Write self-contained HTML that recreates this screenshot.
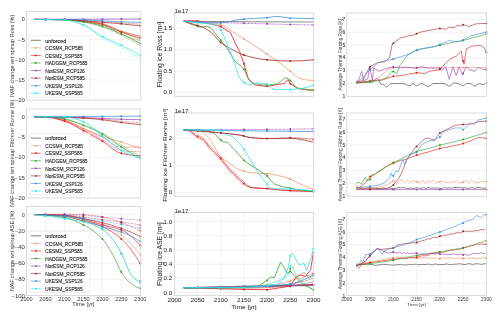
<!DOCTYPE html><html><head><meta charset="utf-8"><style>html,body{margin:0;padding:0;background:#fff;}svg{display:block;will-change:transform;}text{font-family:"Liberation Sans",sans-serif;fill:#262626;stroke:#262626;stroke-width:0.02;} text.t3{stroke:none;fill:#3a3a3a;} text.t3d{stroke:#333;stroke-width:0.08;fill:#333;} text.b{stroke-width:0.12;} text.t1{stroke:none;fill:#333;}</style></head><body>
<svg width="500" height="317" viewBox="0 0 500 317">
<rect width="500" height="317" fill="#fff"/>
<line x1="26.5" y1="19.4" x2="140.3" y2="19.4" stroke="#e9e9e9" stroke-width="0.6"/>
<line x1="26.5" y1="39.58" x2="140.3" y2="39.58" stroke="#e9e9e9" stroke-width="0.6"/>
<line x1="26.5" y1="59.75" x2="140.3" y2="59.75" stroke="#e9e9e9" stroke-width="0.6"/>
<line x1="26.5" y1="79.93" x2="140.3" y2="79.93" stroke="#e9e9e9" stroke-width="0.6"/>
<line x1="26.5" y1="116.9" x2="140.3" y2="116.9" stroke="#e9e9e9" stroke-width="0.6"/>
<line x1="26.5" y1="137.15" x2="140.3" y2="137.15" stroke="#e9e9e9" stroke-width="0.6"/>
<line x1="26.5" y1="157.4" x2="140.3" y2="157.4" stroke="#e9e9e9" stroke-width="0.6"/>
<line x1="26.5" y1="177.65" x2="140.3" y2="177.65" stroke="#e9e9e9" stroke-width="0.6"/>
<line x1="26.5" y1="214.6" x2="140.3" y2="214.6" stroke="#e9e9e9" stroke-width="0.6"/>
<line x1="26.5" y1="230.8" x2="140.3" y2="230.8" stroke="#e9e9e9" stroke-width="0.6"/>
<line x1="26.5" y1="247" x2="140.3" y2="247" stroke="#e9e9e9" stroke-width="0.6"/>
<line x1="26.5" y1="263.2" x2="140.3" y2="263.2" stroke="#e9e9e9" stroke-width="0.6"/>
<line x1="26.5" y1="279.4" x2="140.3" y2="279.4" stroke="#e9e9e9" stroke-width="0.6"/>
<line x1="45.47" y1="206.5" x2="45.47" y2="295.6" stroke="#e9e9e9" stroke-width="0.6"/>
<line x1="64.43" y1="206.5" x2="64.43" y2="295.6" stroke="#e9e9e9" stroke-width="0.6"/>
<line x1="83.4" y1="206.5" x2="83.4" y2="295.6" stroke="#e9e9e9" stroke-width="0.6"/>
<line x1="102.37" y1="206.5" x2="102.37" y2="295.6" stroke="#e9e9e9" stroke-width="0.6"/>
<line x1="121.33" y1="206.5" x2="121.33" y2="295.6" stroke="#e9e9e9" stroke-width="0.6"/>
<line x1="174.4" y1="92.4" x2="313.4" y2="92.4" stroke="#e9e9e9" stroke-width="0.6"/>
<line x1="174.4" y1="70.94" x2="313.4" y2="70.94" stroke="#e9e9e9" stroke-width="0.6"/>
<line x1="174.4" y1="49.47" x2="313.4" y2="49.47" stroke="#e9e9e9" stroke-width="0.6"/>
<line x1="174.4" y1="28.01" x2="313.4" y2="28.01" stroke="#e9e9e9" stroke-width="0.6"/>
<line x1="174.4" y1="192.3" x2="313.4" y2="192.3" stroke="#e9e9e9" stroke-width="0.6"/>
<line x1="174.4" y1="165.3" x2="313.4" y2="165.3" stroke="#e9e9e9" stroke-width="0.6"/>
<line x1="174.4" y1="138.3" x2="313.4" y2="138.3" stroke="#e9e9e9" stroke-width="0.6"/>
<line x1="174.4" y1="292.6" x2="313.4" y2="292.6" stroke="#e9e9e9" stroke-width="0.6"/>
<line x1="174.4" y1="278.38" x2="313.4" y2="278.38" stroke="#e9e9e9" stroke-width="0.6"/>
<line x1="174.4" y1="264.16" x2="313.4" y2="264.16" stroke="#e9e9e9" stroke-width="0.6"/>
<line x1="174.4" y1="249.94" x2="313.4" y2="249.94" stroke="#e9e9e9" stroke-width="0.6"/>
<line x1="174.4" y1="235.72" x2="313.4" y2="235.72" stroke="#e9e9e9" stroke-width="0.6"/>
<line x1="174.4" y1="221.5" x2="313.4" y2="221.5" stroke="#e9e9e9" stroke-width="0.6"/>
<line x1="197.57" y1="212.6" x2="197.57" y2="295.6" stroke="#e9e9e9" stroke-width="0.6"/>
<line x1="220.73" y1="212.6" x2="220.73" y2="295.6" stroke="#e9e9e9" stroke-width="0.6"/>
<line x1="243.9" y1="212.6" x2="243.9" y2="295.6" stroke="#e9e9e9" stroke-width="0.6"/>
<line x1="267.07" y1="212.6" x2="267.07" y2="295.6" stroke="#e9e9e9" stroke-width="0.6"/>
<line x1="290.23" y1="212.6" x2="290.23" y2="295.6" stroke="#e9e9e9" stroke-width="0.6"/>
<line x1="346.8" y1="83.33" x2="486.4" y2="83.33" stroke="#e9e9e9" stroke-width="0.6"/>
<line x1="346.8" y1="70.56" x2="486.4" y2="70.56" stroke="#e9e9e9" stroke-width="0.6"/>
<line x1="346.8" y1="57.79" x2="486.4" y2="57.79" stroke="#e9e9e9" stroke-width="0.6"/>
<line x1="346.8" y1="45.02" x2="486.4" y2="45.02" stroke="#e9e9e9" stroke-width="0.6"/>
<line x1="346.8" y1="32.25" x2="486.4" y2="32.25" stroke="#e9e9e9" stroke-width="0.6"/>
<line x1="346.8" y1="19.48" x2="486.4" y2="19.48" stroke="#e9e9e9" stroke-width="0.6"/>
<line x1="346.8" y1="183.25" x2="486.4" y2="183.25" stroke="#e9e9e9" stroke-width="0.6"/>
<line x1="346.8" y1="170.5" x2="486.4" y2="170.5" stroke="#e9e9e9" stroke-width="0.6"/>
<line x1="346.8" y1="157.75" x2="486.4" y2="157.75" stroke="#e9e9e9" stroke-width="0.6"/>
<line x1="346.8" y1="145" x2="486.4" y2="145" stroke="#e9e9e9" stroke-width="0.6"/>
<line x1="346.8" y1="132.25" x2="486.4" y2="132.25" stroke="#e9e9e9" stroke-width="0.6"/>
<line x1="346.8" y1="119.5" x2="486.4" y2="119.5" stroke="#e9e9e9" stroke-width="0.6"/>
<line x1="346.8" y1="283.24" x2="486.4" y2="283.24" stroke="#e9e9e9" stroke-width="0.6"/>
<line x1="346.8" y1="270.48" x2="486.4" y2="270.48" stroke="#e9e9e9" stroke-width="0.6"/>
<line x1="346.8" y1="257.72" x2="486.4" y2="257.72" stroke="#e9e9e9" stroke-width="0.6"/>
<line x1="346.8" y1="244.96" x2="486.4" y2="244.96" stroke="#e9e9e9" stroke-width="0.6"/>
<line x1="346.8" y1="232.2" x2="486.4" y2="232.2" stroke="#e9e9e9" stroke-width="0.6"/>
<line x1="346.8" y1="219.44" x2="486.4" y2="219.44" stroke="#e9e9e9" stroke-width="0.6"/>
<line x1="370.07" y1="212.6" x2="370.07" y2="295.6" stroke="#e9e9e9" stroke-width="0.6"/>
<line x1="393.33" y1="212.6" x2="393.33" y2="295.6" stroke="#e9e9e9" stroke-width="0.6"/>
<line x1="416.6" y1="212.6" x2="416.6" y2="295.6" stroke="#e9e9e9" stroke-width="0.6"/>
<line x1="439.87" y1="212.6" x2="439.87" y2="295.6" stroke="#e9e9e9" stroke-width="0.6"/>
<line x1="463.13" y1="212.6" x2="463.13" y2="295.6" stroke="#e9e9e9" stroke-width="0.6"/>
<path d="M183.67,21.14 C196.02,21.3 208.38,21.48 220.73,21.57 C251.62,21.78 282.51,21.99 313.4,21.99" fill="none" stroke="#3d3d3d" stroke-width="0.6" stroke-linejoin="round"/>
<path d="M183.67,287.77 C203.74,287.54 223.82,287.25 243.9,286.91 C267.07,286.53 290.23,286.04 313.4,285.49" fill="none" stroke="#3d3d3d" stroke-width="0.6" stroke-linejoin="round"/>
<path d="M356.11,82.69 C359.21,82.66 362.31,82.55 365.41,82.44 C367.74,82.35 370.07,82.3 372.39,82.05 C374.1,81.87 375.81,78.48 377.51,78.48 C378.6,78.48 379.68,83.46 380.77,83.97 C381.86,84.48 382.94,84.42 384.03,84.86 C384.96,85.24 385.89,86.91 386.82,86.91 C387.9,86.91 388.99,84.19 390.08,83.97 C391.16,83.74 392.25,83.59 393.33,83.59 C396.44,83.59 399.54,83.59 402.64,83.59 C405.12,83.59 407.6,85.88 410.09,85.88 C411.02,85.88 411.95,83.59 412.88,83.59 C414.12,83.59 415.36,85.88 416.6,85.88 C418.15,85.88 419.7,83.59 421.25,83.59 C423.74,83.59 426.22,86.52 428.7,86.52 C430.25,86.52 431.8,83.71 433.35,83.59 C435.52,83.42 437.7,83.33 439.87,83.33 C441.42,83.33 442.97,83.43 444.52,83.59 C446.07,83.74 447.62,86.14 449.17,86.14 C451.03,86.14 452.9,82.69 454.76,82.69 C456.31,82.69 457.86,83.41 459.41,83.97 C460.65,84.42 461.89,85.88 463.13,85.88 C464.37,85.88 465.62,83.33 466.86,83.33 C467.94,83.33 469.03,83.44 470.11,83.59 C471.66,83.79 473.22,86.14 474.77,86.14 C476.32,86.14 477.87,83.59 479.42,83.59 C480.66,83.59 481.9,84.61 483.14,84.61 C484.23,84.61 485.31,83.57 486.4,82.31" fill="none" stroke="#3d3d3d" stroke-width="0.62" stroke-linejoin="round"/>
<path d="M356.11,188.52 C356.88,188.18 357.66,187.85 358.43,187.85 C359.21,187.85 359.98,187.88 360.76,187.92 C361.54,187.95 362.31,188.03 363.09,188.11 C363.86,188.2 364.64,188.45 365.41,188.45 C366.19,188.45 366.96,187.72 367.74,187.71 C368.52,187.7 369.29,187.69 370.07,187.69 C370.84,187.69 371.62,188.06 372.39,188.06 C373.17,188.07 373.94,188.07 374.72,188.07 C375.5,188.07 376.27,188.31 377.05,188.41 C377.82,188.52 378.6,188.71 379.37,188.71 C380.15,188.71 380.92,188.35 381.7,188.23 C382.48,188.12 383.25,187.96 384.03,187.96 C384.8,187.96 385.58,188.61 386.35,188.61 C387.13,188.61 387.9,187.69 388.68,187.69 C389.46,187.69 390.23,188.4 391.01,188.4 C391.78,188.4 392.56,188.4 393.33,188.4 C394.11,188.4 394.88,188.64 395.66,188.64 C396.44,188.64 397.21,187.42 397.99,187.42 C398.76,187.42 399.54,187.75 400.31,187.75 C401.09,187.75 401.86,187.57 402.64,187.57 C403.42,187.57 404.19,187.75 404.97,187.9 C405.74,188.05 406.52,188.64 407.29,188.64 C408.07,188.64 408.84,188.35 409.62,188.26 C410.4,188.17 411.17,188.04 411.95,188.04 C412.72,188.04 413.5,188.53 414.27,188.53 C415.05,188.53 415.82,187.46 416.6,187.46 C417.38,187.46 418.15,188.07 418.93,188.2 C419.7,188.33 420.48,188.47 421.25,188.47 C422.03,188.47 422.8,187.62 423.58,187.62 C424.36,187.62 425.13,188.5 425.91,188.5 C426.68,188.5 427.46,187.48 428.23,187.48 C429.01,187.48 429.78,188.08 430.56,188.08 C431.34,188.08 432.11,187.95 432.89,187.95 C433.66,187.95 434.44,188.22 435.21,188.22 C435.99,188.22 436.76,188.03 437.54,188.03 C438.32,188.03 439.09,188.33 439.87,188.41 C440.64,188.5 441.42,188.6 442.19,188.6 C442.97,188.6 443.74,187.54 444.52,187.54 C445.3,187.54 446.07,188.34 446.85,188.34 C447.62,188.34 448.4,187.65 449.17,187.65 C449.95,187.65 450.72,188.37 451.5,188.37 C452.28,188.37 453.05,187.4 453.83,187.4 C454.6,187.4 455.38,187.45 456.15,187.49 C456.93,187.54 457.7,187.67 458.48,187.67 C459.26,187.67 460.03,187.66 460.81,187.66 C461.58,187.66 462.36,187.89 463.13,187.89 C463.91,187.89 464.68,187.7 465.46,187.7 C466.24,187.7 467.01,188.47 467.79,188.47 C468.56,188.47 469.34,188.16 470.11,188.01 C470.89,187.86 471.66,187.56 472.44,187.56 C473.22,187.56 473.99,188.36 474.77,188.36 C475.54,188.36 476.32,187.44 477.09,187.44 C477.87,187.44 478.64,187.45 479.42,187.48 C480.2,187.51 480.97,188.05 481.75,188.09 C482.52,188.12 483.3,188.14 484.07,188.14 C484.85,188.14 485.62,188.09 486.4,188.03" fill="none" stroke="#3d3d3d" stroke-width="0.62" stroke-linejoin="round"/>
<path d="M356.11,264.74 L370.07,263.97 L375.19,265.38 L382.63,264.36 L391.47,264.99 L393.33,265.11 L395.66,264.99 L397.99,264.69 L400.31,264.38 L402.64,264.93 L404.97,264.94 L407.29,264.81 L409.62,264.26 L411.95,264.87 L414.27,264.25 L416.6,264.32 L418.93,264.84 L421.25,264.42 L423.58,264.5 L425.91,264.52 L428.23,263.91 L430.56,264.82 L432.89,264.88 L435.21,263.93 L437.54,264.47 L439.87,264.66 L442.19,264.52 L444.52,264.47 L446.85,263.85 L449.17,264.6 L451.5,264.58 L453.83,264.19 L456.15,264.22 L458.48,263.79 L460.81,263.89 L463.13,264.38 L465.46,264.52 L467.79,263.86 L470.11,263.69 L472.44,264.66 L474.77,263.92 L477.09,263.78 L479.42,263.98 L481.75,264.41 L484.07,263.81 L486.4,263.87" fill="none" stroke="#3d3d3d" stroke-width="0.62" stroke-linejoin="round"/>
<path d="M34.09,19.4 C44.2,19.4 54.32,19.56 64.43,19.8 C70.76,19.96 77.08,20.7 83.4,21.42 C89.72,22.13 96.04,23.18 102.37,24.65 C108.69,26.11 115.01,29.61 121.33,31.51 C127.66,33.4 133.98,35.07 140.3,36.35" fill="none" stroke="#f29a74" stroke-width="0.7" stroke-linejoin="round"/>
<circle cx="45.47" cy="19.55" r="1.0" fill="#f29a74"/>
<circle cx="64.43" cy="19.8" r="1.0" fill="#f29a74"/>
<circle cx="83.4" cy="21.42" r="1.0" fill="#f29a74"/>
<circle cx="102.37" cy="24.65" r="1.0" fill="#f29a74"/>
<circle cx="121.33" cy="31.51" r="1.0" fill="#f29a74"/>
<circle cx="140.3" cy="36.35" r="1.0" fill="#f29a74"/>
<path d="M34.09,116.9 C37.88,116.9 41.67,116.9 45.47,116.9 C51.79,116.9 58.11,118.58 64.43,120.14 C70.76,121.7 77.08,125.95 83.4,128.65 C89.72,131.34 96.04,134.16 102.37,136.34 C108.69,138.52 115.01,140.05 121.33,142.01 C127.66,143.97 133.98,145.99 140.3,148.09" fill="none" stroke="#f29a74" stroke-width="0.7" stroke-linejoin="round"/>
<circle cx="45.47" cy="116.9" r="1.0" fill="#f29a74"/>
<circle cx="64.43" cy="120.14" r="1.0" fill="#f29a74"/>
<circle cx="83.4" cy="128.65" r="1.0" fill="#f29a74"/>
<circle cx="102.37" cy="136.34" r="1.0" fill="#f29a74"/>
<circle cx="121.33" cy="142.01" r="1.0" fill="#f29a74"/>
<circle cx="140.3" cy="148.09" r="1.0" fill="#f29a74"/>
<path d="M34.09,214.6 C44.2,214.6 54.32,214.92 64.43,215.41 C70.76,215.72 77.08,217.28 83.4,218.65 C89.72,220.02 96.04,221.86 102.37,224.32 C108.69,226.78 115.01,230.23 121.33,234.85 C127.66,239.47 133.98,246.73 140.3,255.1" fill="none" stroke="#f29a74" stroke-width="0.65" stroke-linejoin="round"/>
<circle cx="45.47" cy="214.9" r="1.0" fill="#f29a74"/>
<circle cx="64.43" cy="215.41" r="1.0" fill="#f29a74"/>
<circle cx="83.4" cy="218.65" r="1.0" fill="#f29a74"/>
<circle cx="102.37" cy="224.32" r="1.0" fill="#f29a74"/>
<circle cx="121.33" cy="234.85" r="1.0" fill="#f29a74"/>
<circle cx="140.3" cy="255.1" r="1.0" fill="#f29a74"/>
<path d="M183.67,21.14 C188.3,21.33 192.93,21.63 197.57,21.99 C205.13,22.59 212.7,22.95 220.27,24.57 C222.74,25.1 225.21,27.39 227.68,28.86 C230.93,30.8 234.17,32.87 237.41,34.87 C242.05,37.74 246.68,40.48 251.31,43.46 C256.41,46.74 261.51,50.24 266.6,53.76 C272.63,57.93 278.65,61.9 284.67,66.64 C286.53,68.1 288.38,69.89 290.23,71.36 C293.32,73.82 296.41,77.11 299.5,78.23 C301.82,79.07 304.13,79.72 306.45,79.95 C308.77,80.18 311.08,80.38 313.4,80.38" fill="none" stroke="#f29a74" stroke-width="0.8" stroke-linejoin="round"/>
<circle cx="197.57" cy="21.99" r="1.0" fill="#f29a74"/>
<circle cx="220.73" cy="24.84" r="1.0" fill="#f29a74"/>
<circle cx="243.9" cy="38.88" r="1.0" fill="#f29a74"/>
<circle cx="267.07" cy="54.09" r="1.0" fill="#f29a74"/>
<circle cx="290.23" cy="71.36" r="1.0" fill="#f29a74"/>
<circle cx="313.4" cy="80.38" r="1.0" fill="#f29a74"/>
<path d="M183.67,129.93 C188.76,129.93 193.86,130.01 198.96,130.2 C202.35,130.33 205.75,134.85 209.15,138.57 C211,140.6 212.86,143.98 214.71,146.94 C216.72,150.15 218.73,155.21 220.73,157.2 C223.67,160.12 226.6,161.17 229.54,163.14 C232.78,165.31 236.02,168.42 239.27,169.62 C243.59,171.23 247.92,172.47 252.24,172.86 C257.18,173.31 262.12,173.25 267.07,173.67 C274.63,174.31 282.2,176.32 289.77,178.8 C292.86,179.81 295.95,181.96 299.04,183.39 C303.82,185.61 308.61,187.71 313.4,189.6" fill="none" stroke="#f29a74" stroke-width="0.8" stroke-linejoin="round"/>
<circle cx="197.57" cy="130.18" r="1.0" fill="#f29a74"/>
<circle cx="220.73" cy="157.2" r="1.0" fill="#f29a74"/>
<circle cx="243.9" cy="170.78" r="1.0" fill="#f29a74"/>
<circle cx="267.07" cy="173.67" r="1.0" fill="#f29a74"/>
<circle cx="290.23" cy="179.03" r="1.0" fill="#f29a74"/>
<circle cx="313.4" cy="189.6" r="1.0" fill="#f29a74"/>
<path d="M183.67,287.77 L243.9,287.62 L280.97,284.07 L297.18,278.38 L304.13,271.98 L308.77,278.38 L313.4,275.54" fill="none" stroke="#f29a74" stroke-width="0.75" stroke-linejoin="round"/>
<circle cx="197.57" cy="287.73" r="1.0" fill="#f29a74"/>
<circle cx="220.73" cy="287.68" r="1.0" fill="#f29a74"/>
<circle cx="243.9" cy="287.62" r="1.0" fill="#f29a74"/>
<circle cx="267.07" cy="285.4" r="1.0" fill="#f29a74"/>
<circle cx="290.23" cy="280.82" r="1.0" fill="#f29a74"/>
<circle cx="313.4" cy="275.54" r="1.0" fill="#f29a74"/>
<path d="M183.67,287.77 C211.47,287.77 239.27,287.74 267.07,287.62 C274.79,287.59 282.51,286.38 290.23,285.49 C297.96,284.6 305.68,283.36 313.4,281.94" fill="none" stroke="#f29a74" stroke-width="0.5" stroke-dasharray="0.9,0.5" stroke-linejoin="round"/>
<path d="M356.11,82.05 C359.21,82.05 362.31,82.05 365.41,82.05 C369.91,82.05 374.41,79.55 378.91,77.33 C382.48,75.56 386.04,69.79 389.61,68.77 C393.02,67.8 396.44,66.98 399.85,66.98 C405.43,66.98 411.02,67.65 416.6,67.75 C424.2,67.89 431.8,68.01 439.4,68.01 C447.16,68.01 454.91,67.37 462.67,67.37 C470.58,67.37 478.49,67.45 486.4,67.75" fill="none" stroke="#f29a74" stroke-width="0.62" stroke-linejoin="round"/>
<circle cx="370.07" cy="80.42" r="1.0" fill="#f29a74"/>
<circle cx="393.33" cy="68.12" r="1.0" fill="#f29a74"/>
<circle cx="416.6" cy="67.75" r="1.0" fill="#f29a74"/>
<circle cx="439.87" cy="67.99" r="1.0" fill="#f29a74"/>
<circle cx="463.13" cy="67.38" r="1.0" fill="#f29a74"/>
<circle cx="486.4" cy="67.75" r="1.0" fill="#f29a74"/>
<path d="M356.11,188.22 L370.07,188.86 L382.63,186.31 L388.68,184.14 L392.87,180.44 L396.59,183.25 L401.24,179.55 L404.5,181.97 L407.76,180.06 L410.09,182.61 L412.88,180.7 L416.6,181.72 L420.32,182.61 L423.11,180.06 L425.44,183.25 L428.7,180.44 L431.03,182.23 L433.35,180.06 L436.14,182.61 L439.87,181.72 L443.59,180.95 L446.85,182.61 L450.1,181.97 L453.83,182.23 L456.62,180.7 L459.41,182.61 L463.13,182.23 L465.93,180.19 L468.72,182.61 L471.51,180.06 L474.3,181.97 L478.02,182.61 L481.75,181.34 L486.4,181.59" fill="none" stroke="#f29a74" stroke-width="0.62" stroke-linejoin="round"/>
<circle cx="370.07" cy="188.86" r="1.0" fill="#f29a74"/>
<circle cx="393.33" cy="180.8" r="1.0" fill="#f29a74"/>
<circle cx="416.6" cy="181.72" r="1.0" fill="#f29a74"/>
<circle cx="439.87" cy="181.72" r="1.0" fill="#f29a74"/>
<circle cx="463.13" cy="182.23" r="1.0" fill="#f29a74"/>
<circle cx="486.4" cy="181.59" r="1.0" fill="#f29a74"/>
<path d="M356.11,264.61 L370.07,262.06 L393.33,257.72 L395.19,257.11 L397.06,257.01 L398.92,257.09 L400.78,257.71 L402.64,257.94 L404.5,257.65 L406.36,257.85 L408.22,257.39 L410.09,257.6 L411.95,257.78 L413.81,257.91 L415.67,257.89 L417.53,258.47 L419.39,258.17 L421.25,258.46 L423.11,257.71 L424.98,258.58 L426.84,257.81 L428.7,258.58 L430.56,257.96 L432.42,258.33 L434.28,258.26 L436.14,257.82 L438.01,258.67 L439.87,258.64 L441.73,257.77 L443.59,258.19 L445.45,258.63 L447.31,257.72 L449.17,257.77 L451.03,258.62 L452.9,258.31 L454.76,258.61 L456.62,258.44 L458.48,258.13 L460.34,258.61 L462.2,258.07 L464.06,258.73 L465.93,258.62 L467.79,257.97 L469.65,258.4 L471.51,258.39 L473.37,258.21 L475.23,258.34 L477.09,258.44 L478.95,258.81 L480.82,258.11 L482.68,257.87 L484.54,257.86 L486.4,258.19" fill="none" stroke="#f29a74" stroke-width="0.62" stroke-linejoin="round"/>
<circle cx="370.07" cy="262.06" r="1.0" fill="#f29a74"/>
<circle cx="393.33" cy="257.72" r="1.0" fill="#f29a74"/>
<circle cx="416.6" cy="258.18" r="1.0" fill="#f29a74"/>
<circle cx="439.87" cy="258.64" r="1.0" fill="#f29a74"/>
<circle cx="463.13" cy="258.4" r="1.0" fill="#f29a74"/>
<circle cx="486.4" cy="258.19" r="1.0" fill="#f29a74"/>
<path d="M34.09,19.4 C44.2,19.4 54.32,19.56 64.43,19.8 C70.76,19.95 77.08,20.59 83.4,21.22 C89.72,21.84 96.04,22.64 102.37,24.04 C108.69,25.44 115.01,30.07 121.33,32.31 C127.66,34.55 133.98,36.52 140.3,37.96" fill="none" stroke="#e31a1c" stroke-width="0.7" stroke-linejoin="round"/>
<circle cx="45.47" cy="19.55" r="1.0" fill="#e31a1c"/>
<circle cx="64.43" cy="19.8" r="1.0" fill="#e31a1c"/>
<circle cx="83.4" cy="21.22" r="1.0" fill="#e31a1c"/>
<circle cx="102.37" cy="24.04" r="1.0" fill="#e31a1c"/>
<circle cx="121.33" cy="32.31" r="1.0" fill="#e31a1c"/>
<circle cx="140.3" cy="37.96" r="1.0" fill="#e31a1c"/>
<path d="M34.09,19.4 C44.2,19.4 54.32,19.53 64.43,19.72 C70.76,19.84 77.08,20.37 83.4,20.89 C89.72,21.42 96.04,22.09 102.37,23.31 C108.69,24.54 115.01,29.02 121.33,31.02 C127.66,33.02 133.98,34.77 140.3,35.94" fill="none" stroke="#e31a1c" stroke-width="0.55" stroke-dasharray="0.8,0.6" stroke-linejoin="round"/>
<path d="M34.09,19.4 C44.2,19.4 54.32,19.61 64.43,19.92 C70.76,20.11 77.08,20.9 83.4,21.67 C89.72,22.44 96.04,23.41 102.37,25.06 C108.69,26.7 115.01,31.56 121.33,34.12 C127.66,36.68 133.98,38.96 140.3,40.79" fill="none" stroke="#e31a1c" stroke-width="0.55" stroke-dasharray="0.8,0.6" stroke-linejoin="round"/>
<path d="M34.09,116.9 C37.88,116.9 41.67,116.99 45.47,117.1 C51.79,117.3 58.11,119.29 64.43,121.19 C70.76,123.1 77.08,127.34 83.4,130.67 C89.72,134 96.04,137.44 102.37,141.2 C108.69,144.96 115.01,152 121.33,153.35 C127.66,154.7 133.98,155.78 140.3,155.78" fill="none" stroke="#e31a1c" stroke-width="0.7" stroke-linejoin="round"/>
<circle cx="45.47" cy="117.1" r="1.0" fill="#e31a1c"/>
<circle cx="64.43" cy="121.19" r="1.0" fill="#e31a1c"/>
<circle cx="83.4" cy="130.67" r="1.0" fill="#e31a1c"/>
<circle cx="102.37" cy="141.2" r="1.0" fill="#e31a1c"/>
<circle cx="121.33" cy="153.35" r="1.0" fill="#e31a1c"/>
<circle cx="140.3" cy="155.78" r="1.0" fill="#e31a1c"/>
<path d="M34.09,116.9 C37.88,116.9 41.67,116.94 45.47,116.99 C51.79,117.08 58.11,118.98 64.43,120.74 C70.76,122.5 77.08,126.55 83.4,129.66 C89.72,132.76 96.04,135.94 102.37,139.4 C108.69,142.86 115.01,149.82 121.33,150.54 C127.66,151.26 133.98,151.73 140.3,151.73" fill="none" stroke="#e31a1c" stroke-width="0.55" stroke-dasharray="0.8,0.6" stroke-linejoin="round"/>
<path d="M34.09,116.9 C37.88,116.86 41.67,116.86 45.47,116.86 C51.79,116.86 58.11,118.62 64.43,120.2 C70.76,121.79 77.08,125.61 83.4,128.44 C89.72,131.28 96.04,134.13 102.37,137.24 C108.69,140.35 115.01,147.16 121.33,147.16 C127.66,147.16 133.98,147.16 140.3,146.87" fill="none" stroke="#e31a1c" stroke-width="0.55" stroke-dasharray="0.8,0.6" stroke-linejoin="round"/>
<path d="M34.09,214.6 C44.2,214.25 54.32,214.19 64.43,214.19 C70.76,214.19 77.08,214.37 83.4,214.6 C89.72,214.83 96.04,215.9 102.37,217.03 C108.69,218.16 115.01,220.48 121.33,222.7 C127.66,224.92 133.98,227.69 140.3,230.8" fill="none" stroke="#e31a1c" stroke-width="0.5" stroke-dasharray="0.9,0.6" stroke-linejoin="round"/>
<circle cx="45.47" cy="214.45" r="1.0" fill="#e31a1c"/>
<circle cx="64.43" cy="214.19" r="1.0" fill="#e31a1c"/>
<circle cx="83.4" cy="214.6" r="1.0" fill="#e31a1c"/>
<circle cx="102.37" cy="217.03" r="1.0" fill="#e31a1c"/>
<circle cx="121.33" cy="222.7" r="1.0" fill="#e31a1c"/>
<circle cx="140.3" cy="230.8" r="1.0" fill="#e31a1c"/>
<path d="M34.09,214.6 C44.2,214.6 54.32,214.9 64.43,215.41 C70.76,215.73 77.08,217.9 83.4,219.46 C89.72,221.02 96.04,223.22 102.37,224.97 C108.69,226.72 115.01,227.47 121.33,229.99 C127.66,232.51 133.98,238.52 140.3,245.38" fill="none" stroke="#e31a1c" stroke-width="0.65" stroke-linejoin="round"/>
<circle cx="45.47" cy="214.9" r="1.0" fill="#e31a1c"/>
<circle cx="64.43" cy="215.41" r="1.0" fill="#e31a1c"/>
<circle cx="83.4" cy="219.46" r="1.0" fill="#e31a1c"/>
<circle cx="102.37" cy="224.97" r="1.0" fill="#e31a1c"/>
<circle cx="121.33" cy="229.99" r="1.0" fill="#e31a1c"/>
<circle cx="140.3" cy="245.38" r="1.0" fill="#e31a1c"/>
<path d="M34.09,214.6 C44.2,214.6 54.32,215.28 64.43,216.22 C70.76,216.81 77.08,219.34 83.4,221.08 C89.72,222.82 96.04,224.17 102.37,226.75 C108.69,229.33 115.01,233.47 121.33,238.9 C127.66,244.33 133.98,253.28 140.3,263.61" fill="none" stroke="#e31a1c" stroke-width="0.65" stroke-linejoin="round"/>
<circle cx="45.47" cy="215.21" r="1.0" fill="#e31a1c"/>
<circle cx="64.43" cy="216.22" r="1.0" fill="#e31a1c"/>
<circle cx="83.4" cy="221.08" r="1.0" fill="#e31a1c"/>
<circle cx="102.37" cy="226.75" r="1.0" fill="#e31a1c"/>
<circle cx="121.33" cy="238.9" r="1.0" fill="#e31a1c"/>
<circle cx="140.3" cy="263.61" r="1.0" fill="#e31a1c"/>
<path d="M183.67,21.14 L196.18,20.71 L220.27,26.29 L230.46,32.73 L235.56,43.89 L239.73,51.62 L243.9,63.64 L248.53,79.52 L255.02,85.1 L266.6,86.39 L284.67,83.38 L287.92,79.52 L290.23,83.81 L297.65,88.11 L313.4,90.25" fill="none" stroke="#e31a1c" stroke-width="0.8" stroke-linejoin="round"/>
<circle cx="197.57" cy="21.03" r="1.0" fill="#e31a1c"/>
<circle cx="220.73" cy="26.58" r="1.0" fill="#e31a1c"/>
<circle cx="243.9" cy="63.64" r="1.0" fill="#e31a1c"/>
<circle cx="267.07" cy="86.31" r="1.0" fill="#e31a1c"/>
<circle cx="290.23" cy="83.81" r="1.0" fill="#e31a1c"/>
<circle cx="313.4" cy="90.25" r="1.0" fill="#e31a1c"/>
<path d="M183.67,129.93 C185.06,129.93 186.45,130.05 187.84,130.2 C190.62,130.5 193.4,134.27 196.18,135.87 C198.49,137.21 200.81,137.69 203.13,139.38 C205.13,140.84 207.14,144.69 209.15,146.94 C211.47,149.54 213.78,151.57 216.1,153.96 C217.64,155.55 219.19,157.09 220.73,158.82 C223.67,162.11 226.6,166.44 229.54,169.62 C232.32,172.63 235.1,174.95 237.88,177.72 C239.73,179.57 241.58,182.13 243.44,183.39 C246.37,185.39 249.31,187.39 252.24,187.71 C256.87,188.22 261.51,188.2 266.14,188.52 C274.17,189.08 282.2,190.38 290.23,190.68 C297.96,190.96 305.68,191.22 313.4,191.22" fill="none" stroke="#e31a1c" stroke-width="0.75" stroke-linejoin="round"/>
<circle cx="197.57" cy="136.57" r="1.0" fill="#e31a1c"/>
<circle cx="220.73" cy="158.82" r="1.0" fill="#e31a1c"/>
<circle cx="243.9" cy="183.62" r="1.0" fill="#e31a1c"/>
<circle cx="267.07" cy="188.6" r="1.0" fill="#e31a1c"/>
<circle cx="290.23" cy="190.68" r="1.0" fill="#e31a1c"/>
<circle cx="313.4" cy="191.22" r="1.0" fill="#e31a1c"/>
<path d="M183.67,129.93 C185.06,129.93 186.45,130.05 187.84,130.2 C190.62,130.49 193.4,132.87 196.18,134.25 C198.49,135.4 200.81,136.07 203.13,137.76 C205.13,139.22 207.14,143.07 209.15,145.32 C211.47,147.92 213.78,149.95 216.1,152.34 C217.64,153.93 219.19,155.47 220.73,157.2 C223.67,160.49 226.6,164.82 229.54,168 C232.32,171.01 235.1,173.33 237.88,176.1 C239.73,177.95 241.58,180.24 243.44,181.77 C246.37,184.19 249.31,187.37 252.24,187.71 C256.87,188.24 261.51,188.2 266.14,188.52 C274.17,189.08 282.2,190.38 290.23,190.68 C297.96,190.96 305.68,191.22 313.4,191.22" fill="none" stroke="#e31a1c" stroke-width="0.5" stroke-dasharray="0.9,0.5" stroke-linejoin="round"/>
<path d="M183.67,129.93 C185.06,129.93 186.45,130.05 187.84,130.2 C190.62,130.51 193.4,135.72 196.18,137.49 C198.49,138.96 200.81,139.31 203.13,141 C205.13,142.46 207.14,146.31 209.15,148.56 C211.47,151.16 213.78,153.19 216.1,155.58 C217.64,157.17 219.19,158.71 220.73,160.44 C223.67,163.73 226.6,168.06 229.54,171.24 C232.32,174.25 235.1,176.57 237.88,179.34 C239.73,181.19 241.58,184.1 243.44,185.01 C246.37,186.45 249.31,187.41 252.24,187.71 C256.87,188.19 261.51,188.2 266.14,188.52 C274.17,189.08 282.2,190.38 290.23,190.68 C297.96,190.96 305.68,191.22 313.4,191.22" fill="none" stroke="#e31a1c" stroke-width="0.5" stroke-dasharray="0.9,0.5" stroke-linejoin="round"/>
<path d="M183.67,287.77 L243.9,289.4 L267.07,289.76 L290.23,286.2 L296.26,276.96 L299.96,274.83 L305.52,276.25 L310.62,269.85 L313.4,252.78" fill="none" stroke="#e31a1c" stroke-width="0.8" stroke-linejoin="round"/>
<circle cx="197.57" cy="288.14" r="1.0" fill="#e31a1c"/>
<circle cx="220.73" cy="288.77" r="1.0" fill="#e31a1c"/>
<circle cx="243.9" cy="289.4" r="1.0" fill="#e31a1c"/>
<circle cx="267.07" cy="289.76" r="1.0" fill="#e31a1c"/>
<circle cx="290.23" cy="286.2" r="1.0" fill="#e31a1c"/>
<circle cx="313.4" cy="252.78" r="1.0" fill="#e31a1c"/>
<path d="M183.67,287.77 C203.74,288.33 223.82,288.33 243.9,288.33 C259.34,288.33 274.79,287.55 290.23,285.49 C294.09,284.97 297.96,280.33 301.82,278.38 C305.68,276.43 309.54,274.71 313.4,273.4" fill="none" stroke="#e31a1c" stroke-width="0.5" stroke-dasharray="0.9,0.5" stroke-linejoin="round"/>
<circle cx="313.4" cy="273.4" r="1.0" fill="#e31a1c"/>
<path d="M356.11,82.69 L372.39,80.78 L383.56,79.63 L393.33,76.18 L403.11,75.41 L408.69,74.01 L418.46,72.6 L424.05,73.75 L429.63,71.2 L439.4,69.92 L449.17,59.58 L456.15,56.13 L461.27,51.15 L462.67,59.58 L464.06,64.17 L466.39,48.98 L471.97,46.17 L480.35,45.4 L484.07,47.57 L486.4,52.55" fill="none" stroke="#e31a1c" stroke-width="0.62" stroke-linejoin="round"/>
<circle cx="370.07" cy="81.05" r="1.0" fill="#e31a1c"/>
<circle cx="393.33" cy="76.18" r="1.0" fill="#e31a1c"/>
<circle cx="416.6" cy="72.87" r="1.0" fill="#e31a1c"/>
<circle cx="439.87" cy="69.43" r="1.0" fill="#e31a1c"/>
<circle cx="463.13" cy="61.11" r="1.0" fill="#e31a1c"/>
<circle cx="486.4" cy="52.55" r="1.0" fill="#e31a1c"/>
<path d="M356.11,185.54 L358.9,187.84 L364.95,183.25 L370.07,176.62 L376.58,173.05 L384.03,167.82 L392.87,163.36 L400.31,160.43 L404.97,159.66 L416.6,155.07 L428.23,152.01 L439.87,148.44 L451.5,146.27 L462.67,143.73 L470.11,141.18 L478.49,137.35 L486.4,138.37" fill="none" stroke="#e31a1c" stroke-width="0.62" stroke-linejoin="round"/>
<circle cx="370.07" cy="176.62" r="1.0" fill="#e31a1c"/>
<circle cx="393.33" cy="163.18" r="1.0" fill="#e31a1c"/>
<circle cx="416.6" cy="155.07" r="1.0" fill="#e31a1c"/>
<circle cx="439.87" cy="148.44" r="1.0" fill="#e31a1c"/>
<circle cx="463.13" cy="143.57" r="1.0" fill="#e31a1c"/>
<circle cx="486.4" cy="138.37" r="1.0" fill="#e31a1c"/>
<path d="M356.11,265.38 L370.07,262.7 L393.33,259.25 L395.19,259.24 L397.06,258.64 L398.92,258.48 L400.78,258.14 L402.64,258.65 L404.5,258.44 L406.36,258.36 L408.22,258.11 L410.09,257.43 L411.95,257.88 L413.81,257.3 L415.67,257.46 L417.53,257.11 L419.39,256.62 L421.25,255.84 L423.11,255.72 L424.98,255.97 L426.84,255.35 L428.7,255.12 L430.56,254.02 L432.42,253.73 L434.28,253.38 L436.14,253 L438.01,252.72 L439.87,252.16 L441.73,251.96 L443.59,252.15 L445.45,251.19 L447.31,251.2 L449.17,250.57 L451.03,250.41 L452.9,250.19 L454.76,249.9 L456.62,249.47 L458.48,249.23 L460.34,249.08 L462.2,248 L464.06,247.59 L465.93,246.89 L467.79,246.68 L469.65,246.31 L471.51,245.6 L473.37,245.72 L475.23,244.65 L477.09,244.38 L478.95,244.14 L480.82,244.09 L482.68,243.9 L484.54,244.31 L486.4,244.24" fill="none" stroke="#e31a1c" stroke-width="0.62" stroke-linejoin="round"/>
<circle cx="370.07" cy="262.7" r="1.0" fill="#e31a1c"/>
<circle cx="393.33" cy="259.25" r="1.0" fill="#e31a1c"/>
<circle cx="416.6" cy="257.29" r="1.0" fill="#e31a1c"/>
<circle cx="439.87" cy="252.16" r="1.0" fill="#e31a1c"/>
<circle cx="463.13" cy="247.8" r="1.0" fill="#e31a1c"/>
<circle cx="486.4" cy="244.24" r="1.0" fill="#e31a1c"/>
<path d="M34.09,19.4 C44.2,19.4 54.32,19.55 64.43,19.8 C70.76,19.96 77.08,20.9 83.4,21.82 C89.72,22.75 96.04,24.39 102.37,26.26 C108.69,28.13 115.01,31.07 121.33,33.93 C127.66,36.78 133.98,40.05 140.3,43.61" fill="none" stroke="#33a02c" stroke-width="0.7" stroke-linejoin="round"/>
<circle cx="45.47" cy="19.55" r="1.0" fill="#33a02c"/>
<circle cx="64.43" cy="19.8" r="1.0" fill="#33a02c"/>
<circle cx="83.4" cy="21.82" r="1.0" fill="#33a02c"/>
<circle cx="102.37" cy="26.26" r="1.0" fill="#33a02c"/>
<circle cx="121.33" cy="33.93" r="1.0" fill="#33a02c"/>
<circle cx="140.3" cy="43.61" r="1.0" fill="#33a02c"/>
<path d="M34.09,19.4 C44.2,19.4 54.32,19.49 64.43,19.66 C70.76,19.76 77.08,20.5 83.4,21.24 C89.72,21.98 96.04,23.36 102.37,24.95 C108.69,26.54 115.01,29.13 121.33,31.6 C127.66,34.07 133.98,36.9 140.3,39.98" fill="none" stroke="#33a02c" stroke-width="0.55" stroke-dasharray="0.8,0.6" stroke-linejoin="round"/>
<path d="M34.09,19.4 C44.2,19.4 54.32,19.59 64.43,19.9 C70.76,20.1 77.08,21.16 83.4,22.21 C89.72,23.26 96.04,25.07 102.37,27.13 C108.69,29.2 115.01,32.37 121.33,35.48 C127.66,38.58 133.98,42.14 140.3,46.03" fill="none" stroke="#33a02c" stroke-width="0.55" stroke-dasharray="0.8,0.6" stroke-linejoin="round"/>
<path d="M34.09,116.9 C37.88,116.9 41.67,116.9 45.47,116.9 C51.79,116.9 58.11,118 64.43,119.09 C70.76,120.17 77.08,122.99 83.4,125.41 C89.72,127.82 96.04,130.49 102.37,133.91 C108.69,137.33 115.01,142.76 121.33,146.87 C127.66,150.98 133.98,154.9 140.3,158.62" fill="none" stroke="#33a02c" stroke-width="0.7" stroke-linejoin="round"/>
<circle cx="45.47" cy="116.9" r="1.0" fill="#33a02c"/>
<circle cx="64.43" cy="119.09" r="1.0" fill="#33a02c"/>
<circle cx="83.4" cy="125.41" r="1.0" fill="#33a02c"/>
<circle cx="102.37" cy="133.91" r="1.0" fill="#33a02c"/>
<circle cx="121.33" cy="146.87" r="1.0" fill="#33a02c"/>
<circle cx="140.3" cy="158.62" r="1.0" fill="#33a02c"/>
<path d="M34.09,116.9 C37.88,116.83 41.67,116.83 45.47,116.83 C51.79,116.83 58.11,117.82 64.43,118.82 C70.76,119.81 77.08,122.51 83.4,124.8 C89.72,127.08 96.04,129.59 102.37,132.83 C108.69,136.07 115.01,141.3 121.33,145.18 C127.66,149.06 133.98,152.74 140.3,156.19" fill="none" stroke="#33a02c" stroke-width="0.55" stroke-dasharray="0.8,0.6" stroke-linejoin="round"/>
<path d="M34.09,214.6 C44.2,214.6 54.32,215.81 64.43,217.03 C70.76,217.79 77.08,219.28 83.4,221.08 C89.72,222.88 96.04,225.26 102.37,229.18 C105.91,231.38 109.45,235.28 112.99,239.71 C115.77,243.19 118.55,248.41 121.33,253.48 C124.87,259.94 128.41,271.8 131.95,275.35 C134.74,278.14 137.52,280.82 140.3,281.02" fill="none" stroke="#33a02c" stroke-width="0.5" stroke-dasharray="0.9,0.6" stroke-linejoin="round"/>
<circle cx="45.47" cy="215.51" r="1.0" fill="#33a02c"/>
<circle cx="64.43" cy="217.03" r="1.0" fill="#33a02c"/>
<circle cx="83.4" cy="221.08" r="1.0" fill="#33a02c"/>
<circle cx="102.37" cy="229.18" r="1.0" fill="#33a02c"/>
<circle cx="121.33" cy="253.48" r="1.0" fill="#33a02c"/>
<circle cx="140.3" cy="281.02" r="1.0" fill="#33a02c"/>
<path d="M34.09,214.6 C44.2,214.6 54.32,215.93 64.43,217.6 C70.76,218.64 77.08,221.69 83.4,224.89 C89.72,228.08 96.04,232.39 102.37,238.9 C105.91,242.54 109.45,248.89 112.99,255.1 C115.77,259.98 118.55,267.72 121.33,272.11 C123.61,275.71 125.89,279.08 128.16,281.02 C132.21,284.47 136.25,287.7 140.3,288.31" fill="none" stroke="#33a02c" stroke-width="0.65" stroke-linejoin="round"/>
<circle cx="45.47" cy="215.72" r="1.0" fill="#33a02c"/>
<circle cx="64.43" cy="217.6" r="1.0" fill="#33a02c"/>
<circle cx="83.4" cy="224.89" r="1.0" fill="#33a02c"/>
<circle cx="102.37" cy="238.9" r="1.0" fill="#33a02c"/>
<circle cx="121.33" cy="272.11" r="1.0" fill="#33a02c"/>
<circle cx="140.3" cy="288.31" r="1.0" fill="#33a02c"/>
<path d="M183.67,21.14 C187.84,23.08 192.01,24.63 196.18,25.86 C197.88,26.36 199.57,27.15 201.27,27.15 C202.97,27.15 204.67,26.29 206.37,26.29 C208.07,26.29 209.77,27.64 211.47,28.86 C213.17,30.09 214.86,33.25 216.56,35.3 C217.8,36.79 219.03,38.14 220.27,39.6 C221.35,40.87 222.43,42.05 223.51,43.46 C225.37,45.87 227.22,48.76 229.07,51.62 C230.93,54.47 232.78,58.4 234.63,60.63 C237.72,64.36 240.81,65.11 243.9,69.22 C245.44,71.27 246.99,76.69 248.53,78.66 C250.08,80.63 251.62,82.48 253.17,82.96 C257.65,84.33 262.12,85.1 266.6,85.1 C270.31,85.1 274.02,84.65 277.72,83.81 C279.42,83.43 281.12,80.61 282.82,79.52 C283.9,78.83 284.98,77.8 286.06,77.8 C287.45,77.8 288.84,79.31 290.23,80.38 C292.7,82.28 295.18,87.99 297.65,88.54 C302.9,89.69 308.15,90.25 313.4,90.25" fill="none" stroke="#33a02c" stroke-width="0.8" stroke-linejoin="round"/>
<circle cx="197.57" cy="26.21" r="1.0" fill="#33a02c"/>
<circle cx="220.73" cy="40.15" r="1.0" fill="#33a02c"/>
<circle cx="243.9" cy="69.22" r="1.0" fill="#33a02c"/>
<circle cx="267.07" cy="85.05" r="1.0" fill="#33a02c"/>
<circle cx="290.23" cy="80.38" r="1.0" fill="#33a02c"/>
<circle cx="313.4" cy="90.25" r="1.0" fill="#33a02c"/>
<path d="M183.67,129.93 C188.3,129.93 192.93,130.04 197.57,130.2 C202.51,130.37 207.45,131.02 212.39,132.36 C215.02,133.07 217.64,137.66 220.27,139.65 C221.35,140.47 222.43,141.55 223.51,141.81 C224.75,142.11 225.98,142.03 227.22,142.35 C228.15,142.59 229.07,144.11 230,145.05 C232.78,147.86 235.56,150.92 238.34,153.96 C240.35,156.16 242.36,158.99 244.36,160.71 C249.31,164.95 254.25,167.02 259.19,170.43 C261.82,172.24 264.44,173.88 267.07,176.1 C269.69,178.32 272.32,183.04 274.94,184.2 C280.19,186.51 285.45,187.27 290.7,188.25 C298.26,189.66 305.83,190.92 313.4,191.49" fill="none" stroke="#33a02c" stroke-width="0.8" stroke-linejoin="round"/>
<circle cx="197.57" cy="130.2" r="1.0" fill="#33a02c"/>
<circle cx="220.73" cy="139.96" r="1.0" fill="#33a02c"/>
<circle cx="243.9" cy="160.19" r="1.0" fill="#33a02c"/>
<circle cx="267.07" cy="176.1" r="1.0" fill="#33a02c"/>
<circle cx="290.23" cy="188.13" r="1.0" fill="#33a02c"/>
<circle cx="313.4" cy="191.49" r="1.0" fill="#33a02c"/>
<path d="M183.67,287.77 L243.9,287.62 L257.8,286.41 L267.07,280.51 L270.31,276.96 L274.48,277.67 L280.5,262.03 L284.67,268.43 L286.99,273.4 L290.23,271.27 L294.4,275.54 L302.28,284.07 L313.4,289.76" fill="none" stroke="#33a02c" stroke-width="0.75" stroke-linejoin="round"/>
<circle cx="197.57" cy="287.73" r="1.0" fill="#33a02c"/>
<circle cx="220.73" cy="287.68" r="1.0" fill="#33a02c"/>
<circle cx="243.9" cy="287.62" r="1.0" fill="#33a02c"/>
<circle cx="267.07" cy="280.51" r="1.0" fill="#33a02c"/>
<circle cx="290.23" cy="271.27" r="1.0" fill="#33a02c"/>
<circle cx="313.4" cy="289.76" r="1.0" fill="#33a02c"/>
<path d="M183.67,287.77 L243.9,287.62 L267.07,284.42 L273.55,282.65 L285.14,277.67 L289.77,271.98 L290.7,264.87 L292.55,267 L296.26,275.54 L305.52,285.13 L313.4,289.76" fill="none" stroke="#33a02c" stroke-width="0.55" stroke-dasharray="0.9,0.5" stroke-linejoin="round"/>
<circle cx="290.23" cy="268.43" r="1.0" fill="#33a02c"/>
<path d="M356.11,83.33 L377.51,80.78 L380.77,80.39 L387.75,76.82 L391.94,71.2 L394.73,71.96 L396.59,73.88 L399.85,65.32 L406.83,55.75 L415.67,50.51 L419.86,49.36 L439.4,45.4 L458.01,41.19 L462.2,40.81 L473.37,37.61 L481.75,35.57 L486.4,33.53" fill="none" stroke="#33a02c" stroke-width="0.62" stroke-linejoin="round"/>
<circle cx="370.07" cy="81.66" r="1.0" fill="#33a02c"/>
<circle cx="393.33" cy="71.58" r="1.0" fill="#33a02c"/>
<circle cx="416.6" cy="50.26" r="1.0" fill="#33a02c"/>
<circle cx="439.87" cy="45.3" r="1.0" fill="#33a02c"/>
<circle cx="463.13" cy="40.54" r="1.0" fill="#33a02c"/>
<circle cx="486.4" cy="33.53" r="1.0" fill="#33a02c"/>
<path d="M356.11,183.25 L358.9,181.97 L361.23,184.4 L365.41,177.38 L367.27,181.08 L370.07,179.55 L372.39,174.45 L374.25,175.22 L377.51,172.16 L381.7,169.99 L386.82,166.29 L392.87,162.59 L400.31,159.66 L407.76,155.2 L416.6,151.38 L428.23,148.57 L439.87,145.13 L451.5,142.45 L462.67,139.65 L474.77,136.07 L486.4,132.38" fill="none" stroke="#33a02c" stroke-width="0.62" stroke-linejoin="round"/>
<circle cx="370.07" cy="179.55" r="1.0" fill="#33a02c"/>
<circle cx="393.33" cy="162.41" r="1.0" fill="#33a02c"/>
<circle cx="416.6" cy="151.38" r="1.0" fill="#33a02c"/>
<circle cx="439.87" cy="145.13" r="1.0" fill="#33a02c"/>
<circle cx="463.13" cy="139.51" r="1.0" fill="#33a02c"/>
<circle cx="486.4" cy="132.38" r="1.0" fill="#33a02c"/>
<path d="M356.11,265.38 L370.07,263.84 L393.33,260.27 L395.19,260.04 L397.06,259.06 L398.92,258.75 L400.78,258.09 L402.64,258.4 L404.5,258.05 L406.36,257.2 L408.22,256.91 L410.09,256.91 L411.95,256.15 L413.81,256.08 L415.67,255.32 L417.53,255.66 L419.39,255.26 L421.25,254.27 L423.11,254.53 L424.98,254.34 L426.84,253.48 L428.7,253.36 L430.56,253.56 L432.42,252.85 L434.28,252.44 L436.14,252.66 L438.01,251.86 L439.87,252.11 L441.73,251.6 L443.59,251.58 L445.45,251.17 L447.31,250.09 L449.17,250.39 L451.03,249.51 L452.9,249.78 L454.76,249.33 L456.62,248.77 L458.48,248.67 L460.34,248.98 L462.2,248.2 L464.06,247.71 L465.93,247.56 L467.79,247.03 L469.65,245.62 L471.51,245.38 L473.37,245.09 L475.23,244.22 L477.09,243.84 L478.95,242.64 L480.82,242.33 L482.68,242.12 L484.54,240.78 L486.4,240.91" fill="none" stroke="#33a02c" stroke-width="0.62" stroke-linejoin="round"/>
<circle cx="370.07" cy="263.84" r="1.0" fill="#33a02c"/>
<circle cx="393.33" cy="260.27" r="1.0" fill="#33a02c"/>
<circle cx="416.6" cy="255.49" r="1.0" fill="#33a02c"/>
<circle cx="439.87" cy="252.11" r="1.0" fill="#33a02c"/>
<circle cx="463.13" cy="247.95" r="1.0" fill="#33a02c"/>
<circle cx="486.4" cy="240.91" r="1.0" fill="#33a02c"/>
<path d="M34.09,19.4 C50.52,19.33 66.96,19.26 83.4,19.2 C102.37,19.13 121.33,19.06 140.3,19" fill="none" stroke="#9440b0" stroke-width="0.7" stroke-linejoin="round"/>
<circle cx="45.47" cy="19.35" r="1.0" fill="#9440b0"/>
<circle cx="64.43" cy="19.28" r="1.0" fill="#9440b0"/>
<circle cx="83.4" cy="19.2" r="1.0" fill="#9440b0"/>
<circle cx="102.37" cy="19.13" r="1.0" fill="#9440b0"/>
<circle cx="121.33" cy="19.06" r="1.0" fill="#9440b0"/>
<circle cx="140.3" cy="19" r="1.0" fill="#9440b0"/>
<path d="M34.09,116.9 C50.52,116.98 66.96,117.34 83.4,117.71 C89.72,117.85 96.04,118.06 102.37,118.32 C108.69,118.57 115.01,119.14 121.33,119.33 C127.66,119.52 133.98,119.7 140.3,119.74" fill="none" stroke="#9440b0" stroke-width="0.7" stroke-linejoin="round"/>
<circle cx="45.47" cy="117.09" r="1.0" fill="#9440b0"/>
<circle cx="64.43" cy="117.4" r="1.0" fill="#9440b0"/>
<circle cx="83.4" cy="117.71" r="1.0" fill="#9440b0"/>
<circle cx="102.37" cy="118.32" r="1.0" fill="#9440b0"/>
<circle cx="121.33" cy="119.33" r="1.0" fill="#9440b0"/>
<circle cx="140.3" cy="119.74" r="1.0" fill="#9440b0"/>
<path d="M34.09,214.6 C44.2,214.6 54.32,214.6 64.43,214.6 C70.76,214.6 77.08,215.05 83.4,215.41 C89.72,215.77 96.04,216.49 102.37,217.03 C108.69,217.57 115.01,218.11 121.33,218.65 C127.66,219.19 133.98,219.73 140.3,220.27" fill="none" stroke="#9440b0" stroke-width="0.5" stroke-dasharray="0.9,0.6" stroke-linejoin="round"/>
<circle cx="45.47" cy="214.6" r="1.0" fill="#9440b0"/>
<circle cx="64.43" cy="214.6" r="1.0" fill="#9440b0"/>
<circle cx="83.4" cy="215.41" r="1.0" fill="#9440b0"/>
<circle cx="102.37" cy="217.03" r="1.0" fill="#9440b0"/>
<circle cx="121.33" cy="218.65" r="1.0" fill="#9440b0"/>
<circle cx="140.3" cy="220.27" r="1.0" fill="#9440b0"/>
<path d="M183.67,21.14 C203.74,21.95 223.82,22.69 243.9,23.28 C267.07,23.96 290.23,24.56 313.4,25" fill="none" stroke="#9440b0" stroke-width="0.7" stroke-dasharray="0.9,0.5" stroke-linejoin="round"/>
<circle cx="197.57" cy="21.63" r="1.0" fill="#9440b0"/>
<circle cx="220.73" cy="22.46" r="1.0" fill="#9440b0"/>
<circle cx="243.9" cy="23.28" r="1.0" fill="#9440b0"/>
<circle cx="267.07" cy="23.86" r="1.0" fill="#9440b0"/>
<circle cx="290.23" cy="24.43" r="1.0" fill="#9440b0"/>
<circle cx="313.4" cy="25" r="1.0" fill="#9440b0"/>
<path d="M183.67,129.93 C211.47,129.84 239.27,129.63 267.07,129.39 C282.51,129.26 297.96,129.06 313.4,128.85" fill="none" stroke="#9440b0" stroke-width="0.7" stroke-dasharray="0.9,0.5" stroke-linejoin="round"/>
<circle cx="197.57" cy="129.84" r="1.0" fill="#9440b0"/>
<circle cx="220.73" cy="129.69" r="1.0" fill="#9440b0"/>
<circle cx="243.9" cy="129.54" r="1.0" fill="#9440b0"/>
<circle cx="267.07" cy="129.39" r="1.0" fill="#9440b0"/>
<circle cx="290.23" cy="129.12" r="1.0" fill="#9440b0"/>
<circle cx="313.4" cy="128.85" r="1.0" fill="#9440b0"/>
<path d="M183.67,287.77 C203.74,287.18 223.82,286.67 243.9,286.2 C251.62,286.02 259.34,285.83 267.07,285.7 C282.51,285.45 297.96,285.23 313.4,285.13" fill="none" stroke="#9440b0" stroke-width="0.8" stroke-linejoin="round"/>
<circle cx="197.57" cy="287.4" r="1.0" fill="#9440b0"/>
<circle cx="220.73" cy="286.8" r="1.0" fill="#9440b0"/>
<circle cx="243.9" cy="286.2" r="1.0" fill="#9440b0"/>
<circle cx="267.07" cy="285.7" r="1.0" fill="#9440b0"/>
<circle cx="290.23" cy="285.42" r="1.0" fill="#9440b0"/>
<circle cx="313.4" cy="285.13" r="1.0" fill="#9440b0"/>
<path d="M356.11,82.05 L358.9,79.5 L361.69,71.33 L363.55,80.78 L367.74,79.12 L369.6,66.98 L372.39,80.78 L373.79,67.88 L378.91,71.33 L384.96,68.77 L392.87,66.98 L399.85,67.88 L407.29,67.37 L414.27,68.26 L421.25,66.73 L428.23,68.01 L439.4,68.01 L442.66,69.28 L445.92,66.98 L449.17,79.37 L452.9,66.73 L456.15,75.41 L458.95,66.73 L462.67,74.77 L465.93,66.73 L469.18,69.28 L474.3,71.45 L478.02,67.37 L482.68,69.28 L486.4,69.41" fill="none" stroke="#9440b0" stroke-width="0.62" stroke-linejoin="round"/>
<circle cx="370.07" cy="69.28" r="1.0" fill="#9440b0"/>
<circle cx="393.33" cy="67.04" r="1.0" fill="#9440b0"/>
<circle cx="416.6" cy="67.75" r="1.0" fill="#9440b0"/>
<circle cx="439.87" cy="68.19" r="1.0" fill="#9440b0"/>
<circle cx="463.13" cy="73.62" r="1.0" fill="#9440b0"/>
<circle cx="486.4" cy="69.41" r="1.0" fill="#9440b0"/>
<path d="M356.11,189.62 L486.4,189.62" fill="none" stroke="#9440b0" stroke-width="0.62" stroke-linejoin="round"/>
<circle cx="370.07" cy="189.62" r="1.0" fill="#9440b0"/>
<circle cx="393.33" cy="189.62" r="1.0" fill="#9440b0"/>
<circle cx="416.6" cy="189.62" r="1.0" fill="#9440b0"/>
<circle cx="439.87" cy="189.62" r="1.0" fill="#9440b0"/>
<circle cx="463.13" cy="189.62" r="1.0" fill="#9440b0"/>
<circle cx="486.4" cy="189.62" r="1.0" fill="#9440b0"/>
<path d="M356.11,265.89 L358.9,268.44 L362.16,263.46 L364.95,261.55 L370.07,255.17 L377.05,248.15 L381.7,250.06 L387.75,253.25 L393.33,251.98 L397.99,253.25 L399.85,251.9 L401.71,253.51 L403.57,252.54 L405.43,253.56 L407.29,252.44 L409.15,254.06 L411.02,252.89 L412.88,253.33 L414.74,253.2 L416.6,253.13 L418.46,254.29 L420.32,254.14 L422.18,253.57 L424.05,254.23 L425.91,254.25 L427.77,254.31 L429.63,253.34 L431.49,253.32 L433.35,253.44 L435.21,254.32 L437.07,253.24 L438.94,253.87 L440.8,254.34 L442.66,254.08 L444.52,254.22 L446.38,254.82 L448.24,254.16 L450.1,254.56 L451.97,254.32 L453.83,253.85 L455.69,254.36 L457.55,254.81 L459.41,254.19 L461.27,254.07 L463.13,254.93 L464.99,254.06 L466.86,255.3 L468.72,254.94 L470.58,254.72 L472.44,253.37 L474.3,253.58 L476.16,253.36 L478.02,253.85 L479.89,253.36 L481.75,252.58 L483.61,253.62 L485.47,253.42" fill="none" stroke="#9440b0" stroke-width="0.62" stroke-linejoin="round"/>
<circle cx="370.07" cy="255.17" r="1.0" fill="#9440b0"/>
<circle cx="393.33" cy="251.98" r="1.0" fill="#9440b0"/>
<circle cx="416.6" cy="253.13" r="1.0" fill="#9440b0"/>
<circle cx="439.87" cy="254.11" r="1.0" fill="#9440b0"/>
<circle cx="463.13" cy="254.93" r="1.0" fill="#9440b0"/>
<path d="M34.09,19.4 C44.2,19.4 54.32,19.47 64.43,19.6 C70.76,19.68 77.08,20.2 83.4,20.61 C89.72,21.02 96.04,21.69 102.37,22.22 C108.69,22.76 115.01,23.24 121.33,23.84 C127.66,24.44 133.98,25.12 140.3,25.86" fill="none" stroke="#a82828" stroke-width="0.7" stroke-linejoin="round"/>
<circle cx="45.47" cy="19.48" r="1.0" fill="#a82828"/>
<circle cx="64.43" cy="19.6" r="1.0" fill="#a82828"/>
<circle cx="83.4" cy="20.61" r="1.0" fill="#a82828"/>
<circle cx="102.37" cy="22.22" r="1.0" fill="#a82828"/>
<circle cx="121.33" cy="23.84" r="1.0" fill="#a82828"/>
<circle cx="140.3" cy="25.86" r="1.0" fill="#a82828"/>
<path d="M34.09,19.4 C44.2,19.4 54.32,19.45 64.43,19.54 C70.76,19.59 77.08,20.02 83.4,20.35 C89.72,20.69 96.04,21.24 102.37,21.64 C108.69,22.05 115.01,22.38 121.33,22.81 C127.66,23.23 133.98,23.72 140.3,24.24" fill="none" stroke="#a82828" stroke-width="0.55" stroke-dasharray="0.8,0.6" stroke-linejoin="round"/>
<path d="M34.09,116.9 C44.2,116.9 54.32,117.09 64.43,117.31 C70.76,117.44 77.08,117.76 83.4,118.12 C89.72,118.48 96.04,119.05 102.37,119.74 C108.69,120.42 115.01,121.78 121.33,122.57 C127.66,123.36 133.98,124.06 140.3,124.6" fill="none" stroke="#a82828" stroke-width="0.7" stroke-linejoin="round"/>
<circle cx="45.47" cy="117.05" r="1.0" fill="#a82828"/>
<circle cx="64.43" cy="117.31" r="1.0" fill="#a82828"/>
<circle cx="83.4" cy="118.12" r="1.0" fill="#a82828"/>
<circle cx="102.37" cy="119.74" r="1.0" fill="#a82828"/>
<circle cx="121.33" cy="122.57" r="1.0" fill="#a82828"/>
<circle cx="140.3" cy="124.6" r="1.0" fill="#a82828"/>
<path d="M34.09,116.9 C44.2,116.9 54.32,117.06 64.43,117.22 C70.76,117.33 77.08,117.53 83.4,117.79 C89.72,118.05 96.04,118.48 102.37,119.01 C108.69,119.53 115.01,120.72 121.33,121.27 C127.66,121.82 133.98,122.3 140.3,122.57" fill="none" stroke="#a82828" stroke-width="0.55" stroke-dasharray="0.8,0.6" stroke-linejoin="round"/>
<path d="M34.09,214.6 C44.2,214.6 54.32,214.75 64.43,215 C70.76,215.16 77.08,216.24 83.4,217.03 C89.72,217.82 96.04,219.08 102.37,219.87 C108.69,220.65 115.01,221.06 121.33,221.89 C127.66,222.72 133.98,223.85 140.3,225.13" fill="none" stroke="#a82828" stroke-width="0.5" stroke-dasharray="0.9,0.6" stroke-linejoin="round"/>
<circle cx="45.47" cy="214.75" r="1.0" fill="#a82828"/>
<circle cx="64.43" cy="215" r="1.0" fill="#a82828"/>
<circle cx="83.4" cy="217.03" r="1.0" fill="#a82828"/>
<circle cx="102.37" cy="219.87" r="1.0" fill="#a82828"/>
<circle cx="121.33" cy="221.89" r="1.0" fill="#a82828"/>
<circle cx="140.3" cy="225.13" r="1.0" fill="#a82828"/>
<path d="M34.09,214.6 C44.2,214.6 54.32,214.92 64.43,215.41 C70.76,215.72 77.08,217.45 83.4,218.65 C89.72,219.85 96.04,221.12 102.37,222.7 C108.69,224.27 115.01,226.15 121.33,228.37 C127.66,230.59 133.98,233.37 140.3,236.47" fill="none" stroke="#a82828" stroke-width="0.65" stroke-linejoin="round"/>
<circle cx="45.47" cy="214.9" r="1.0" fill="#a82828"/>
<circle cx="64.43" cy="215.41" r="1.0" fill="#a82828"/>
<circle cx="83.4" cy="218.65" r="1.0" fill="#a82828"/>
<circle cx="102.37" cy="222.7" r="1.0" fill="#a82828"/>
<circle cx="121.33" cy="228.37" r="1.0" fill="#a82828"/>
<circle cx="140.3" cy="236.47" r="1.0" fill="#a82828"/>
<path d="M183.67,21.14 C187.84,22.36 192.01,23.66 196.18,25 C198.34,25.69 200.5,26.21 202.66,27.15 C206.06,28.62 209.46,31.14 212.86,34.02 C215.33,36.11 217.8,40.16 220.27,42.17 C223.67,44.94 227.07,46.75 230.46,48.61 C234.94,51.07 239.42,53.71 243.9,55.05 C251.47,57.32 259.04,59.12 266.6,59.77 C274.48,60.46 282.36,61.06 290.23,61.06 C297.96,61.06 305.68,60.62 313.4,59.77" fill="none" stroke="#a82828" stroke-width="0.8" stroke-linejoin="round"/>
<circle cx="197.57" cy="25.46" r="1.0" fill="#a82828"/>
<circle cx="220.73" cy="42.46" r="1.0" fill="#a82828"/>
<circle cx="243.9" cy="55.05" r="1.0" fill="#a82828"/>
<circle cx="267.07" cy="59.8" r="1.0" fill="#a82828"/>
<circle cx="290.23" cy="61.06" r="1.0" fill="#a82828"/>
<circle cx="313.4" cy="59.77" r="1.0" fill="#a82828"/>
<path d="M183.67,129.93 C196.02,130.65 208.38,131.72 220.73,132.9 C227.07,133.51 233.4,134.05 239.73,135.06 C243.13,135.6 246.53,137.13 249.92,137.49 C255.64,138.09 261.35,138.57 267.07,138.57 C274.79,138.57 282.51,137.76 290.23,137.76 C297.96,137.76 305.68,138.44 313.4,139.38" fill="none" stroke="#a82828" stroke-width="0.7" stroke-dasharray="0.9,0.5" stroke-linejoin="round"/>
<circle cx="197.57" cy="131.04" r="1.0" fill="#a82828"/>
<circle cx="220.73" cy="132.9" r="1.0" fill="#a82828"/>
<circle cx="243.9" cy="136.05" r="1.0" fill="#a82828"/>
<circle cx="267.07" cy="138.57" r="1.0" fill="#a82828"/>
<circle cx="290.23" cy="137.76" r="1.0" fill="#a82828"/>
<circle cx="313.4" cy="139.38" r="1.0" fill="#a82828"/>
<path d="M183.67,129.93 C196.02,130.65 208.38,131.72 220.73,132.9 C227.07,133.51 233.4,134.05 239.73,135.06 C243.13,135.6 246.53,137.13 249.92,137.49 C255.64,138.09 261.35,138.57 267.07,138.57 C274.79,138.57 282.51,138.3 290.23,138.3 C297.96,138.3 305.68,140.28 313.4,142.35" fill="none" stroke="#a82828" stroke-width="0.8" stroke-linejoin="round"/>
<path d="M183.67,287.77 C203.74,287.4 223.82,286.99 243.9,286.56 C259.34,286.22 274.79,285.98 290.23,285.49 C297.96,285.24 305.68,284.84 313.4,284.42" fill="none" stroke="#a82828" stroke-width="0.8" stroke-linejoin="round"/>
<circle cx="197.57" cy="287.49" r="1.0" fill="#a82828"/>
<circle cx="220.73" cy="287.02" r="1.0" fill="#a82828"/>
<circle cx="243.9" cy="286.56" r="1.0" fill="#a82828"/>
<circle cx="267.07" cy="286.02" r="1.0" fill="#a82828"/>
<circle cx="290.23" cy="285.49" r="1.0" fill="#a82828"/>
<circle cx="313.4" cy="284.42" r="1.0" fill="#a82828"/>
<path d="M183.67,287.77 C211.47,287.77 239.27,287.54 267.07,286.91 C274.79,286.74 282.51,285.33 290.23,284.07 C297.96,282.8 305.68,280.75 313.4,278.38" fill="none" stroke="#a82828" stroke-width="0.5" stroke-dasharray="0.9,0.5" stroke-linejoin="round"/>
<path d="M356.11,81.8 L362.62,80.78 L369.6,66.98 L377.51,62.64 L384.96,61.75 L389.61,57.53 L391.94,45.28 L393.8,42.72 L399.85,38.38 L408.69,35.83 L413.81,34.93 L419.86,32.25 L439.4,28.42 L446.38,29.19 L449.17,27.14 L453.83,27.78 L458.01,25.23 L460.81,26.12 L462.67,24.59 L469.18,26.38 L476.16,23.82 L486.4,23.44" fill="none" stroke="#a82828" stroke-width="0.62" stroke-linejoin="round"/>
<circle cx="370.07" cy="66.73" r="1.0" fill="#a82828"/>
<circle cx="393.33" cy="43.36" r="1.0" fill="#a82828"/>
<circle cx="416.6" cy="33.69" r="1.0" fill="#a82828"/>
<circle cx="439.87" cy="28.47" r="1.0" fill="#a82828"/>
<circle cx="463.13" cy="24.72" r="1.0" fill="#a82828"/>
<circle cx="486.4" cy="23.44" r="1.0" fill="#a82828"/>
<path d="M356.11,188.86 L386.82,188.86 L392.87,185.54 L398.92,178.15 L403.11,169.35 L406.36,160.43 L408.22,157.24 L414.27,148.82 L421.25,142.07 L424.98,138.75 L428.23,137.86 L434.28,140.41 L439.87,132.89 L455.22,125.36 L462.67,124.47 L471.97,123.96 L478.49,121.67 L486.4,121.16" fill="none" stroke="#a82828" stroke-width="0.62" stroke-linejoin="round"/>
<circle cx="370.07" cy="188.86" r="1.0" fill="#a82828"/>
<circle cx="393.33" cy="184.98" r="1.0" fill="#a82828"/>
<circle cx="416.6" cy="146.57" r="1.0" fill="#a82828"/>
<circle cx="439.87" cy="132.89" r="1.0" fill="#a82828"/>
<circle cx="463.13" cy="124.45" r="1.0" fill="#a82828"/>
<circle cx="486.4" cy="121.16" r="1.0" fill="#a82828"/>
<path d="M356.11,266.52 L360.29,263.97 L364.95,261.55 L370.07,255.81 L377.05,248.92 L380.3,249.43 L393.33,248.15 L397.99,244.96 L399.85,244.5 L401.71,244.11 L403.57,243.95 L405.43,243.67 L407.29,243.47 L409.15,242.92 L411.02,243.18 L412.88,242.46 L414.74,243.02 L416.6,242.41 L418.46,241.88 L420.32,241.65 L422.18,240.4 L424.05,240.48 L425.91,239.38 L427.77,238.69 L429.63,239.11 L431.49,237.81 L433.35,237.44 L435.21,237.14 L437.07,237.48 L438.94,236.45 L440.8,235.83 L442.66,235.91 L444.52,235.67 L446.38,235.22 L448.24,234.95 L450.1,233.94 L451.97,234.16 L453.83,233.73 L455.69,233.11 L457.55,232.38 L459.41,232.88 L461.27,232.86 L463.13,231.34 L464.99,231.31 L466.86,231.15 L468.72,231.27 L470.58,231.43 L472.44,231.31 L474.3,230.91 L476.16,230.49 L478.02,230.78 L479.89,229.76 L481.75,229.51 L483.61,230.21 L485.47,228.94" fill="none" stroke="#a82828" stroke-width="0.62" stroke-linejoin="round"/>
<circle cx="370.07" cy="255.81" r="1.0" fill="#a82828"/>
<circle cx="393.33" cy="248.15" r="1.0" fill="#a82828"/>
<circle cx="416.6" cy="242.41" r="1.0" fill="#a82828"/>
<circle cx="439.87" cy="236.14" r="1.0" fill="#a82828"/>
<circle cx="463.13" cy="231.34" r="1.0" fill="#a82828"/>
<path d="M34.09,19.4 C44.2,19.4 54.32,19.4 64.43,19.4 C70.76,19.4 77.08,19.61 83.4,19.8 C89.72,20 96.04,20.48 102.37,20.81 C108.69,21.15 115.01,21.57 121.33,21.82 C127.66,22.07 133.98,22.29 140.3,22.43" fill="none" stroke="#3d8fe0" stroke-width="0.7" stroke-linejoin="round"/>
<circle cx="45.47" cy="19.4" r="1.0" fill="#3d8fe0"/>
<circle cx="64.43" cy="19.4" r="1.0" fill="#3d8fe0"/>
<circle cx="83.4" cy="19.8" r="1.0" fill="#3d8fe0"/>
<circle cx="102.37" cy="20.81" r="1.0" fill="#3d8fe0"/>
<circle cx="121.33" cy="21.82" r="1.0" fill="#3d8fe0"/>
<circle cx="140.3" cy="22.43" r="1.0" fill="#3d8fe0"/>
<path d="M34.09,116.9 L140.3,116.09" fill="none" stroke="#3d8fe0" stroke-width="0.7" stroke-linejoin="round"/>
<circle cx="45.47" cy="116.81" r="1.0" fill="#3d8fe0"/>
<circle cx="64.43" cy="116.67" r="1.0" fill="#3d8fe0"/>
<circle cx="83.4" cy="116.52" r="1.0" fill="#3d8fe0"/>
<circle cx="102.37" cy="116.38" r="1.0" fill="#3d8fe0"/>
<circle cx="121.33" cy="116.23" r="1.0" fill="#3d8fe0"/>
<circle cx="140.3" cy="116.09" r="1.0" fill="#3d8fe0"/>
<path d="M34.09,214.6 C44.2,214.6 54.32,214.94 64.43,215.41 C70.76,215.7 77.08,216.91 83.4,217.84 C89.72,218.77 96.04,220 102.37,221.08 C108.69,222.16 115.01,223.18 121.33,224.32 C127.66,225.46 133.98,226.68 140.3,227.97" fill="none" stroke="#3d8fe0" stroke-width="0.5" stroke-dasharray="0.9,0.6" stroke-linejoin="round"/>
<circle cx="45.47" cy="214.9" r="1.0" fill="#3d8fe0"/>
<circle cx="64.43" cy="215.41" r="1.0" fill="#3d8fe0"/>
<circle cx="83.4" cy="217.84" r="1.0" fill="#3d8fe0"/>
<circle cx="102.37" cy="221.08" r="1.0" fill="#3d8fe0"/>
<circle cx="121.33" cy="224.32" r="1.0" fill="#3d8fe0"/>
<circle cx="140.3" cy="227.97" r="1.0" fill="#3d8fe0"/>
<path d="M34.09,214.6 C44.2,214.6 54.32,215.36 64.43,216.22 C70.76,216.76 77.08,217.98 83.4,219.46 C89.72,220.94 96.04,224.45 102.37,226.51 C108.69,228.57 115.01,229.71 121.33,232.01 C127.66,234.32 133.98,237.59 140.3,241.33" fill="none" stroke="#3d8fe0" stroke-width="0.65" stroke-linejoin="round"/>
<circle cx="45.47" cy="215.21" r="1.0" fill="#3d8fe0"/>
<circle cx="64.43" cy="216.22" r="1.0" fill="#3d8fe0"/>
<circle cx="83.4" cy="219.46" r="1.0" fill="#3d8fe0"/>
<circle cx="102.37" cy="226.51" r="1.0" fill="#3d8fe0"/>
<circle cx="121.33" cy="232.01" r="1.0" fill="#3d8fe0"/>
<circle cx="140.3" cy="241.33" r="1.0" fill="#3d8fe0"/>
<path d="M183.67,21.14 C196.02,22.85 208.38,22.85 220.73,22.85 C227.07,22.85 233.4,20.03 239.73,19.42 C248.84,18.54 257.95,18.54 267.07,17.7 C270.16,17.42 273.24,16.41 276.33,16.41 C280.97,16.41 285.6,17.97 290.23,18.13 C297.96,18.4 305.68,18.56 313.4,18.56" fill="none" stroke="#3d8fe0" stroke-width="0.8" stroke-linejoin="round"/>
<circle cx="197.57" cy="21.78" r="1.0" fill="#3d8fe0"/>
<circle cx="220.73" cy="22.85" r="1.0" fill="#3d8fe0"/>
<circle cx="243.9" cy="19.16" r="1.0" fill="#3d8fe0"/>
<circle cx="267.07" cy="17.7" r="1.0" fill="#3d8fe0"/>
<circle cx="290.23" cy="18.13" r="1.0" fill="#3d8fe0"/>
<circle cx="313.4" cy="18.56" r="1.0" fill="#3d8fe0"/>
<path d="M183.67,129.93 C203.74,130.22 223.82,130.49 243.9,130.74 C267.07,131.03 290.23,131.3 313.4,131.55" fill="none" stroke="#3d8fe0" stroke-width="0.8" stroke-linejoin="round"/>
<circle cx="197.57" cy="130.12" r="1.0" fill="#3d8fe0"/>
<circle cx="220.73" cy="130.43" r="1.0" fill="#3d8fe0"/>
<circle cx="243.9" cy="130.74" r="1.0" fill="#3d8fe0"/>
<circle cx="267.07" cy="131.01" r="1.0" fill="#3d8fe0"/>
<circle cx="290.23" cy="131.28" r="1.0" fill="#3d8fe0"/>
<circle cx="313.4" cy="131.55" r="1.0" fill="#3d8fe0"/>
<path d="M183.67,287.77 C203.74,287.77 223.82,287.58 243.9,287.27 C251.62,287.15 259.34,286.68 267.07,286.2 C274.79,285.73 282.51,285.22 290.23,284.07 C297.96,282.91 305.68,279.09 313.4,274.83" fill="none" stroke="#3d8fe0" stroke-width="0.8" stroke-linejoin="round"/>
<circle cx="197.57" cy="287.65" r="1.0" fill="#3d8fe0"/>
<circle cx="220.73" cy="287.46" r="1.0" fill="#3d8fe0"/>
<circle cx="243.9" cy="287.27" r="1.0" fill="#3d8fe0"/>
<circle cx="267.07" cy="286.2" r="1.0" fill="#3d8fe0"/>
<circle cx="290.23" cy="284.07" r="1.0" fill="#3d8fe0"/>
<circle cx="313.4" cy="274.83" r="1.0" fill="#3d8fe0"/>
<path d="M183.67,287.77 C211.47,287.77 239.27,287.48 267.07,286.91 C274.79,286.76 282.51,286.17 290.23,285.49 C297.96,284.81 305.68,283.48 313.4,281.94" fill="none" stroke="#3d8fe0" stroke-width="0.5" stroke-dasharray="0.9,0.5" stroke-linejoin="round"/>
<path d="M356.11,82.05 L360.76,79.5 L365.41,73.88 L370.53,69.54 L377.98,62.64 L384.96,60.85 L392.87,59.19 L406.83,54.85 L415.67,50.51 L419.86,48.98 L433.82,46.94 L439.4,44.76 L449.17,40.55 L458.01,41.96 L462.2,40.55 L470.58,35.95 L486.4,31.99" fill="none" stroke="#3d8fe0" stroke-width="0.62" stroke-linejoin="round"/>
<circle cx="370.07" cy="69.93" r="1.0" fill="#3d8fe0"/>
<circle cx="393.33" cy="59.05" r="1.0" fill="#3d8fe0"/>
<circle cx="416.6" cy="50.17" r="1.0" fill="#3d8fe0"/>
<circle cx="439.87" cy="44.56" r="1.0" fill="#3d8fe0"/>
<circle cx="463.13" cy="40.04" r="1.0" fill="#3d8fe0"/>
<circle cx="486.4" cy="31.99" r="1.0" fill="#3d8fe0"/>
<path d="M356.11,187.84 L370.07,186.31 L376.12,185.54 L381.23,184.4 L386.82,181.08 L390.08,177.38 L391.01,173.05 L392.87,176.62 L396.13,170.75 L397.99,172.16 L401.24,164.12 L402.64,159.66 L404.97,164.12 L406.83,158.9 L411.48,154.56 L416.6,152.14 L421.72,144.62 L428.23,141.3 L435.21,139.65 L439.87,137.09 L444.05,131.23 L450.1,129.57 L455.22,127.92 L461.27,127.92 L463.13,129.7 L470.11,122.94 L473.84,123.96 L478.49,120.01 L486.4,117.84" fill="none" stroke="#3d8fe0" stroke-width="0.62" stroke-linejoin="round"/>
<circle cx="370.07" cy="186.31" r="1.0" fill="#3d8fe0"/>
<circle cx="393.33" cy="175.78" r="1.0" fill="#3d8fe0"/>
<circle cx="416.6" cy="152.14" r="1.0" fill="#3d8fe0"/>
<circle cx="439.87" cy="137.09" r="1.0" fill="#3d8fe0"/>
<circle cx="463.13" cy="129.7" r="1.0" fill="#3d8fe0"/>
<circle cx="486.4" cy="117.84" r="1.0" fill="#3d8fe0"/>
<path d="M356.11,263.46 L358.43,264.61 L361.23,260.27 L363.09,261.55 L365.88,254.53 L369.14,254.53 L370.07,253.89 L374.72,250.83 L377.05,248.92 L380.3,250.83 L382.17,254.53 L384.03,250.83 L393.33,247.64 L403.11,245.09 L410.09,242.66 L416.6,239.6 L428.23,236.03 L439.87,231.94 L451.5,227.73 L463.13,222.89 L467.79,220.72 L472.44,219.44 L476.63,215.48 L480.82,217.65 L484.07,214.59 L486.4,214.85" fill="none" stroke="#3d8fe0" stroke-width="0.62" stroke-linejoin="round"/>
<circle cx="370.07" cy="253.89" r="1.0" fill="#3d8fe0"/>
<circle cx="393.33" cy="247.64" r="1.0" fill="#3d8fe0"/>
<circle cx="416.6" cy="239.6" r="1.0" fill="#3d8fe0"/>
<circle cx="439.87" cy="231.94" r="1.0" fill="#3d8fe0"/>
<circle cx="463.13" cy="222.89" r="1.0" fill="#3d8fe0"/>
<circle cx="486.4" cy="214.85" r="1.0" fill="#3d8fe0"/>
<path d="M34.09,19.4 C44.2,19.4 54.32,19.61 64.43,20.01 C70.76,20.25 77.08,22.41 83.4,24.65 C89.72,26.88 96.04,33.43 102.37,36.75 C108.69,40.07 115.01,42.1 121.33,45.22 C127.66,48.35 133.98,51.88 140.3,55.72" fill="none" stroke="#2ee6e6" stroke-width="0.7" stroke-linejoin="round"/>
<circle cx="45.47" cy="19.63" r="1.0" fill="#2ee6e6"/>
<circle cx="64.43" cy="20.01" r="1.0" fill="#2ee6e6"/>
<circle cx="83.4" cy="24.65" r="1.0" fill="#2ee6e6"/>
<circle cx="102.37" cy="36.75" r="1.0" fill="#2ee6e6"/>
<circle cx="121.33" cy="45.22" r="1.0" fill="#2ee6e6"/>
<circle cx="140.3" cy="55.72" r="1.0" fill="#2ee6e6"/>
<path d="M34.09,19.4 C44.2,19.4 54.32,19.66 64.43,20.15 C70.76,20.46 77.08,22.8 83.4,25.23 C89.72,27.65 96.04,34.42 102.37,38.06 C108.69,41.69 115.01,44.04 121.33,47.55 C127.66,51.05 133.98,55.03 140.3,59.35" fill="none" stroke="#2ee6e6" stroke-width="0.55" stroke-dasharray="0.8,0.6" stroke-linejoin="round"/>
<path d="M34.09,116.9 C44.2,116.9 54.32,116.9 64.43,116.9 C70.76,116.9 77.08,119.33 83.4,121.76 C89.72,124.19 96.04,131.55 102.37,136.34 C108.69,141.13 115.01,147.19 121.33,150.52 C127.66,153.84 133.98,156.73 140.3,158.21" fill="none" stroke="#2ee6e6" stroke-width="0.7" stroke-linejoin="round"/>
<circle cx="45.47" cy="116.9" r="1.0" fill="#2ee6e6"/>
<circle cx="64.43" cy="116.9" r="1.0" fill="#2ee6e6"/>
<circle cx="83.4" cy="121.76" r="1.0" fill="#2ee6e6"/>
<circle cx="102.37" cy="136.34" r="1.0" fill="#2ee6e6"/>
<circle cx="121.33" cy="150.52" r="1.0" fill="#2ee6e6"/>
<circle cx="140.3" cy="158.21" r="1.0" fill="#2ee6e6"/>
<path d="M34.09,116.9 C44.2,116.82 54.32,116.82 64.43,116.82 C70.76,116.82 77.08,119.11 83.4,121.44 C89.72,123.76 96.04,130.98 102.37,135.61 C108.69,140.24 115.01,146.15 121.33,149.22 C127.66,152.29 133.98,154.97 140.3,156.19" fill="none" stroke="#2ee6e6" stroke-width="0.55" stroke-dasharray="0.8,0.6" stroke-linejoin="round"/>
<path d="M34.09,214.6 C44.2,215.72 54.32,217.12 64.43,218.65 C70.76,219.61 77.08,220.39 83.4,221.89 C89.72,223.39 96.04,225.53 102.37,229.18 C105.91,231.23 109.45,235.28 112.99,239.71 C115.77,243.19 118.55,248.33 121.33,253.48 C124.87,260.04 128.41,272.2 131.95,276.16 C134.74,279.27 137.52,282.14 140.3,282.64" fill="none" stroke="#2ee6e6" stroke-width="0.65" stroke-linejoin="round"/>
<circle cx="45.47" cy="216.12" r="1.0" fill="#2ee6e6"/>
<circle cx="64.43" cy="218.65" r="1.0" fill="#2ee6e6"/>
<circle cx="83.4" cy="221.89" r="1.0" fill="#2ee6e6"/>
<circle cx="102.37" cy="229.18" r="1.0" fill="#2ee6e6"/>
<circle cx="121.33" cy="253.48" r="1.0" fill="#2ee6e6"/>
<circle cx="140.3" cy="282.64" r="1.0" fill="#2ee6e6"/>
<path d="M183.67,21.14 C188.3,21.73 192.93,22.31 197.57,22.85 C203.9,23.6 210.23,23.42 216.56,25 C217.8,25.31 219.03,27.19 220.27,28.86 C221.2,30.12 222.12,32 223.05,34.02 C223.82,35.69 224.59,38.08 225.37,40.03 C226.6,43.14 227.84,45.93 229.07,49.04 C230.93,53.71 232.78,58.7 234.63,63.64 C236.49,68.57 238.34,75.95 240.19,78.66 C241.43,80.47 242.66,81.81 243.9,82.53 C245.75,83.6 247.61,84.67 249.46,84.67 C252.24,84.67 255.02,82.96 257.8,82.96 C259.65,82.96 261.51,83.17 263.36,83.38 C264.75,83.54 266.14,83.77 267.53,84.24 C268.92,84.71 270.31,87.41 271.7,88.11 C272.94,88.73 274.17,89.39 275.41,89.39 C280.35,89.39 285.29,89.39 290.23,89.39 C294.56,89.39 298.88,88.75 303.21,88.11 C306.6,87.6 310,86.51 313.4,85.32" fill="none" stroke="#2ee6e6" stroke-width="0.8" stroke-linejoin="round"/>
<circle cx="197.57" cy="22.85" r="1.0" fill="#2ee6e6"/>
<circle cx="220.73" cy="29.72" r="1.0" fill="#2ee6e6"/>
<circle cx="243.9" cy="82.53" r="1.0" fill="#2ee6e6"/>
<circle cx="267.07" cy="84.15" r="1.0" fill="#2ee6e6"/>
<circle cx="290.23" cy="89.39" r="1.0" fill="#2ee6e6"/>
<circle cx="313.4" cy="85.32" r="1.0" fill="#2ee6e6"/>
<path d="M183.67,129.93 C196.02,129.93 208.38,129.96 220.73,130.2 C222.28,130.23 223.82,133.86 225.37,134.52 C227.37,135.38 229.38,135.3 231.39,136.14 C232.63,136.66 233.86,138.05 235.1,139.11 C236.64,140.44 238.19,141.7 239.73,143.43 C241.27,145.16 242.82,147.57 244.36,149.91 C246.53,153.18 248.69,157.15 250.85,160.71 C253.17,164.53 255.48,168.66 257.8,172.05 C260.89,176.56 263.98,180.96 267.07,184.2 C268.77,185.98 270.46,188.73 272.16,188.79 C278.19,189.01 284.21,188.91 290.23,189.06 C297.96,189.25 305.68,190.03 313.4,190.95" fill="none" stroke="#2ee6e6" stroke-width="0.8" stroke-linejoin="round"/>
<circle cx="197.57" cy="130.03" r="1.0" fill="#2ee6e6"/>
<circle cx="220.73" cy="130.2" r="1.0" fill="#2ee6e6"/>
<circle cx="243.9" cy="149.26" r="1.0" fill="#2ee6e6"/>
<circle cx="267.07" cy="184.2" r="1.0" fill="#2ee6e6"/>
<circle cx="290.23" cy="189.06" r="1.0" fill="#2ee6e6"/>
<circle cx="313.4" cy="190.95" r="1.0" fill="#2ee6e6"/>
<path d="M183.67,287.77 L243.9,287.62 L267.07,285.49 L279.11,284.07 L284.21,277.67 L288.38,267 L290.23,255.63 L292.55,253.5 L299.04,264.87 L304.13,263.45 L306.45,270.56 L310.62,259.18 L313.4,248.52" fill="none" stroke="#2ee6e6" stroke-width="0.8" stroke-linejoin="round"/>
<circle cx="197.57" cy="287.73" r="1.0" fill="#2ee6e6"/>
<circle cx="220.73" cy="287.68" r="1.0" fill="#2ee6e6"/>
<circle cx="243.9" cy="287.62" r="1.0" fill="#2ee6e6"/>
<circle cx="267.07" cy="285.49" r="1.0" fill="#2ee6e6"/>
<circle cx="290.23" cy="255.63" r="1.0" fill="#2ee6e6"/>
<circle cx="313.4" cy="248.52" r="1.0" fill="#2ee6e6"/>
<path d="M183.67,287.77 L267.07,285.49 L288.38,276.25 L290.7,267 L299.5,271.27 L313.4,278.38" fill="none" stroke="#2ee6e6" stroke-width="0.5" stroke-dasharray="0.9,0.5" stroke-linejoin="round"/>
<rect x="26.5" y="11.5" width="113.8" height="88.6" fill="none" stroke="#d6d6d6" stroke-width="0.9"/>
<rect x="26.5" y="109" width="113.8" height="88.9" fill="none" stroke="#d6d6d6" stroke-width="0.9"/>
<rect x="26.5" y="206.5" width="113.8" height="89.1" fill="none" stroke="#d6d6d6" stroke-width="0.9"/>
<rect x="174.4" y="12.9" width="139" height="83.4" fill="none" stroke="#d6d6d6" stroke-width="0.9"/>
<rect x="174.4" y="113" width="139" height="83.3" fill="none" stroke="#d6d6d6" stroke-width="0.9"/>
<rect x="174.4" y="212.6" width="139" height="83" fill="none" stroke="#d6d6d6" stroke-width="0.9"/>
<rect x="346.8" y="12.9" width="139.6" height="83.4" fill="none" stroke="#d6d6d6" stroke-width="0.9"/>
<rect x="346.8" y="113" width="139.6" height="83.3" fill="none" stroke="#d6d6d6" stroke-width="0.9"/>
<rect x="346.8" y="212.6" width="139.6" height="83" fill="none" stroke="#d6d6d6" stroke-width="0.9"/>
<text class="t1" x="24.9" y="19.4" font-size="5.04" text-anchor="end" dominant-baseline="central" textLength="3.09" lengthAdjust="spacingAndGlyphs">0</text>
<text class="t1" x="24.9" y="39.58" font-size="5.04" text-anchor="end" dominant-baseline="central" textLength="7.15" lengthAdjust="spacingAndGlyphs">−5</text>
<text class="t1" x="24.9" y="59.75" font-size="5.04" text-anchor="end" dominant-baseline="central" textLength="10.24" lengthAdjust="spacingAndGlyphs">−10</text>
<text class="t1" x="24.9" y="79.93" font-size="5.04" text-anchor="end" dominant-baseline="central" textLength="10.24" lengthAdjust="spacingAndGlyphs">−15</text>
<text class="t1" x="24.9" y="100.1" font-size="5.04" text-anchor="end" dominant-baseline="central" textLength="10.24" lengthAdjust="spacingAndGlyphs">−20</text>
<text class="t1" x="24.9" y="116.9" font-size="5.04" text-anchor="end" dominant-baseline="central" textLength="3.09" lengthAdjust="spacingAndGlyphs">0</text>
<text class="t1" x="24.9" y="137.15" font-size="5.04" text-anchor="end" dominant-baseline="central" textLength="7.15" lengthAdjust="spacingAndGlyphs">−5</text>
<text class="t1" x="24.9" y="157.4" font-size="5.04" text-anchor="end" dominant-baseline="central" textLength="10.24" lengthAdjust="spacingAndGlyphs">−10</text>
<text class="t1" x="24.9" y="177.65" font-size="5.04" text-anchor="end" dominant-baseline="central" textLength="10.24" lengthAdjust="spacingAndGlyphs">−15</text>
<text class="t1" x="24.9" y="197.9" font-size="5.04" text-anchor="end" dominant-baseline="central" textLength="10.24" lengthAdjust="spacingAndGlyphs">−20</text>
<text class="t1" x="24.9" y="214.6" font-size="5.04" text-anchor="end" dominant-baseline="central" textLength="3.09" lengthAdjust="spacingAndGlyphs">0</text>
<text class="t1" x="24.9" y="230.8" font-size="5.04" text-anchor="end" dominant-baseline="central" textLength="10.24" lengthAdjust="spacingAndGlyphs">−20</text>
<text class="t1" x="24.9" y="247" font-size="5.04" text-anchor="end" dominant-baseline="central" textLength="10.24" lengthAdjust="spacingAndGlyphs">−40</text>
<text class="t1" x="24.9" y="263.2" font-size="5.04" text-anchor="end" dominant-baseline="central" textLength="10.24" lengthAdjust="spacingAndGlyphs">−60</text>
<text class="t1" x="24.9" y="279.4" font-size="5.04" text-anchor="end" dominant-baseline="central" textLength="10.24" lengthAdjust="spacingAndGlyphs">−80</text>
<text class="t1" x="24.9" y="295.6" font-size="5.04" text-anchor="end" dominant-baseline="central" textLength="13.32" lengthAdjust="spacingAndGlyphs">−100</text>
<text class="t1" x="26.5" y="301" font-size="5.04" text-anchor="middle" textLength="12.34" lengthAdjust="spacingAndGlyphs">2000</text>
<text class="t1" x="45.47" y="301" font-size="5.04" text-anchor="middle" textLength="12.34" lengthAdjust="spacingAndGlyphs">2050</text>
<text class="t1" x="64.43" y="301" font-size="5.04" text-anchor="middle" textLength="12.34" lengthAdjust="spacingAndGlyphs">2100</text>
<text class="t1" x="83.4" y="301" font-size="5.04" text-anchor="middle" textLength="12.34" lengthAdjust="spacingAndGlyphs">2150</text>
<text class="t1" x="102.37" y="301" font-size="5.04" text-anchor="middle" textLength="12.34" lengthAdjust="spacingAndGlyphs">2200</text>
<text class="t1" x="121.33" y="301" font-size="5.04" text-anchor="middle" textLength="12.34" lengthAdjust="spacingAndGlyphs">2250</text>
<text class="t1" x="140.3" y="301" font-size="5.04" text-anchor="middle" textLength="12.34" lengthAdjust="spacingAndGlyphs">2300</text>
<text x="172.3" y="92.4" font-size="5.72" text-anchor="end" dominant-baseline="central" textLength="8.75" lengthAdjust="spacingAndGlyphs">0.0</text>
<text x="172.3" y="70.94" font-size="5.72" text-anchor="end" dominant-baseline="central" textLength="8.75" lengthAdjust="spacingAndGlyphs">0.5</text>
<text x="172.3" y="49.47" font-size="5.72" text-anchor="end" dominant-baseline="central" textLength="8.75" lengthAdjust="spacingAndGlyphs">1.0</text>
<text x="172.3" y="28.01" font-size="5.72" text-anchor="end" dominant-baseline="central" textLength="8.75" lengthAdjust="spacingAndGlyphs">1.5</text>
<text x="172.3" y="192.3" font-size="5.72" text-anchor="end" dominant-baseline="central" textLength="3.5" lengthAdjust="spacingAndGlyphs">0</text>
<text x="172.3" y="165.3" font-size="5.72" text-anchor="end" dominant-baseline="central" textLength="3.5" lengthAdjust="spacingAndGlyphs">1</text>
<text x="172.3" y="138.3" font-size="5.72" text-anchor="end" dominant-baseline="central" textLength="3.5" lengthAdjust="spacingAndGlyphs">2</text>
<text x="172.3" y="292.6" font-size="5.72" text-anchor="end" dominant-baseline="central" textLength="8.75" lengthAdjust="spacingAndGlyphs">0.0</text>
<text x="172.3" y="278.38" font-size="5.72" text-anchor="end" dominant-baseline="central" textLength="8.75" lengthAdjust="spacingAndGlyphs">0.2</text>
<text x="172.3" y="264.16" font-size="5.72" text-anchor="end" dominant-baseline="central" textLength="8.75" lengthAdjust="spacingAndGlyphs">0.4</text>
<text x="172.3" y="249.94" font-size="5.72" text-anchor="end" dominant-baseline="central" textLength="8.75" lengthAdjust="spacingAndGlyphs">0.6</text>
<text x="172.3" y="235.72" font-size="5.72" text-anchor="end" dominant-baseline="central" textLength="8.75" lengthAdjust="spacingAndGlyphs">0.8</text>
<text x="172.3" y="221.5" font-size="5.72" text-anchor="end" dominant-baseline="central" textLength="8.75" lengthAdjust="spacingAndGlyphs">1.0</text>
<text x="174.4" y="302.2" font-size="5.72" text-anchor="middle" textLength="14" lengthAdjust="spacingAndGlyphs">2000</text>
<text x="197.57" y="302.2" font-size="5.72" text-anchor="middle" textLength="14" lengthAdjust="spacingAndGlyphs">2050</text>
<text x="220.73" y="302.2" font-size="5.72" text-anchor="middle" textLength="14" lengthAdjust="spacingAndGlyphs">2100</text>
<text x="243.9" y="302.2" font-size="5.72" text-anchor="middle" textLength="14" lengthAdjust="spacingAndGlyphs">2150</text>
<text x="267.07" y="302.2" font-size="5.72" text-anchor="middle" textLength="14" lengthAdjust="spacingAndGlyphs">2200</text>
<text x="290.23" y="302.2" font-size="5.72" text-anchor="middle" textLength="14" lengthAdjust="spacingAndGlyphs">2250</text>
<text x="313.4" y="302.2" font-size="5.72" text-anchor="middle" textLength="14" lengthAdjust="spacingAndGlyphs">2300</text>
<text class="t3d" x="345.3" y="96.1" font-size="4.58" text-anchor="end" dominant-baseline="central" textLength="2.8" lengthAdjust="spacingAndGlyphs">1</text>
<text class="t3d" x="345.3" y="83.33" font-size="4.58" text-anchor="end" dominant-baseline="central" textLength="2.8" lengthAdjust="spacingAndGlyphs">2</text>
<text class="t3d" x="345.3" y="70.56" font-size="4.58" text-anchor="end" dominant-baseline="central" textLength="2.8" lengthAdjust="spacingAndGlyphs">3</text>
<text class="t3d" x="345.3" y="57.79" font-size="4.58" text-anchor="end" dominant-baseline="central" textLength="2.8" lengthAdjust="spacingAndGlyphs">4</text>
<text class="t3d" x="345.3" y="45.02" font-size="4.58" text-anchor="end" dominant-baseline="central" textLength="2.8" lengthAdjust="spacingAndGlyphs">5</text>
<text class="t3d" x="345.3" y="32.25" font-size="4.58" text-anchor="end" dominant-baseline="central" textLength="2.8" lengthAdjust="spacingAndGlyphs">6</text>
<text class="t3d" x="345.3" y="19.48" font-size="4.58" text-anchor="end" dominant-baseline="central" textLength="2.8" lengthAdjust="spacingAndGlyphs">7</text>
<text class="t3d" x="345.3" y="196" font-size="4.58" text-anchor="end" dominant-baseline="central" textLength="2.8" lengthAdjust="spacingAndGlyphs">1</text>
<text class="t3d" x="345.3" y="183.25" font-size="4.58" text-anchor="end" dominant-baseline="central" textLength="2.8" lengthAdjust="spacingAndGlyphs">2</text>
<text class="t3d" x="345.3" y="170.5" font-size="4.58" text-anchor="end" dominant-baseline="central" textLength="2.8" lengthAdjust="spacingAndGlyphs">3</text>
<text class="t3d" x="345.3" y="157.75" font-size="4.58" text-anchor="end" dominant-baseline="central" textLength="2.8" lengthAdjust="spacingAndGlyphs">4</text>
<text class="t3d" x="345.3" y="145" font-size="4.58" text-anchor="end" dominant-baseline="central" textLength="2.8" lengthAdjust="spacingAndGlyphs">5</text>
<text class="t3d" x="345.3" y="132.25" font-size="4.58" text-anchor="end" dominant-baseline="central" textLength="2.8" lengthAdjust="spacingAndGlyphs">6</text>
<text class="t3d" x="345.3" y="119.5" font-size="4.58" text-anchor="end" dominant-baseline="central" textLength="2.8" lengthAdjust="spacingAndGlyphs">7</text>
<text class="t3d" x="345.3" y="296" font-size="4.58" text-anchor="end" dominant-baseline="central" textLength="2.8" lengthAdjust="spacingAndGlyphs">1</text>
<text class="t3d" x="345.3" y="283.24" font-size="4.58" text-anchor="end" dominant-baseline="central" textLength="2.8" lengthAdjust="spacingAndGlyphs">2</text>
<text class="t3d" x="345.3" y="270.48" font-size="4.58" text-anchor="end" dominant-baseline="central" textLength="2.8" lengthAdjust="spacingAndGlyphs">3</text>
<text class="t3d" x="345.3" y="257.72" font-size="4.58" text-anchor="end" dominant-baseline="central" textLength="2.8" lengthAdjust="spacingAndGlyphs">4</text>
<text class="t3d" x="345.3" y="244.96" font-size="4.58" text-anchor="end" dominant-baseline="central" textLength="2.8" lengthAdjust="spacingAndGlyphs">5</text>
<text class="t3d" x="345.3" y="232.2" font-size="4.58" text-anchor="end" dominant-baseline="central" textLength="2.8" lengthAdjust="spacingAndGlyphs">6</text>
<text class="t3d" x="345.3" y="219.44" font-size="4.58" text-anchor="end" dominant-baseline="central" textLength="2.8" lengthAdjust="spacingAndGlyphs">7</text>
<text class="t3" x="346.8" y="301" font-size="4.76" text-anchor="middle" textLength="10.82" lengthAdjust="spacingAndGlyphs">2000</text>
<text class="t3" x="370.07" y="301" font-size="4.76" text-anchor="middle" textLength="10.82" lengthAdjust="spacingAndGlyphs">2050</text>
<text class="t3" x="393.33" y="301" font-size="4.76" text-anchor="middle" textLength="10.82" lengthAdjust="spacingAndGlyphs">2100</text>
<text class="t3" x="416.6" y="301" font-size="4.76" text-anchor="middle" textLength="10.82" lengthAdjust="spacingAndGlyphs">2150</text>
<text class="t3" x="439.87" y="301" font-size="4.76" text-anchor="middle" textLength="10.82" lengthAdjust="spacingAndGlyphs">2200</text>
<text class="t3" x="463.13" y="301" font-size="4.76" text-anchor="middle" textLength="10.82" lengthAdjust="spacingAndGlyphs">2250</text>
<text class="t3" x="486.4" y="301" font-size="4.76" text-anchor="middle" textLength="10.82" lengthAdjust="spacingAndGlyphs">2300</text>
<text x="174.4" y="12.8" font-size="5.82" textLength="14.13" lengthAdjust="spacingAndGlyphs">1e17</text>
<text x="174.4" y="112.9" font-size="5.82" textLength="14.13" lengthAdjust="spacingAndGlyphs">1e17</text>
<text x="174.4" y="212.5" font-size="5.82" textLength="14.13" lengthAdjust="spacingAndGlyphs">1e17</text>
<text class="t1" x="83.4" y="306" font-size="5.04" text-anchor="middle" textLength="22.06" lengthAdjust="spacingAndGlyphs">Time [yr]</text>
<text x="243.9" y="308.5" font-size="5.82" text-anchor="middle" textLength="25.47" lengthAdjust="spacingAndGlyphs">Time [yr]</text>
<text class="t3" x="416.6" y="305.6" font-size="4.32" text-anchor="middle" textLength="18.88" lengthAdjust="spacingAndGlyphs">Time [yr]</text>
<text class="t1" transform="translate(11.8,55.8) rotate(-90)" font-size="5.2" text-anchor="middle" dominant-baseline="central" textLength="82.17" lengthAdjust="spacingAndGlyphs">IVAF change wrt spinup Ross (%)</text>
<text class="t1" transform="translate(11.8,153.45) rotate(-90)" font-size="5.2" text-anchor="middle" dominant-baseline="central" textLength="107.48" lengthAdjust="spacingAndGlyphs">IVAF change wrt spinup Filchner Ronne (%)</text>
<text class="t1" transform="translate(11.8,251.05) rotate(-90)" font-size="5.2" text-anchor="middle" dominant-baseline="central" textLength="80.41" lengthAdjust="spacingAndGlyphs">IVAF change wrt spinup ASE (%)</text>
<text transform="translate(159.1,54.6) rotate(-90)" font-size="6.29" text-anchor="middle" dominant-baseline="central" textLength="65.77" lengthAdjust="spacingAndGlyphs">Floating ice Ross [m³]</text>
<text transform="translate(164.9,155.15) rotate(-90)" font-size="6.08" text-anchor="middle" dominant-baseline="central" textLength="93.2" lengthAdjust="spacingAndGlyphs">Floating ice Filchner Ronne [m³]</text>
<text transform="translate(159.1,254.1) rotate(-90)" font-size="6.29" text-anchor="middle" dominant-baseline="central" textLength="63.64" lengthAdjust="spacingAndGlyphs">Floating ice ASE [m³]</text>
<text class="t3" transform="translate(340,54.6) rotate(-90)" font-size="4.42" text-anchor="middle" dominant-baseline="central" textLength="71.71" lengthAdjust="spacingAndGlyphs">Average Thermal Forcing Ross [K]</text>
<text class="t3" transform="translate(340,154.65) rotate(-90)" font-size="4.42" text-anchor="middle" dominant-baseline="central" textLength="93.22" lengthAdjust="spacingAndGlyphs">Average Thermal Forcing Filchner Ronne [K]</text>
<text class="t3" transform="translate(340,254.1) rotate(-90)" font-size="4.42" text-anchor="middle" dominant-baseline="central" textLength="70.21" lengthAdjust="spacingAndGlyphs">Average Thermal Forcing ASE [K]</text>
<rect x="29.1" y="35.7" width="60.5" height="61.32" rx="1.2" fill="#fff" fill-opacity="0.8" stroke="#e4e4e4" stroke-width="0.6"/>
<line x1="30.8" y1="40.3" x2="40.8" y2="40.3" stroke="#3d3d3d" stroke-width="0.65"/>
<text class="b" x="45.2" y="40.5" font-size="5.14" dominant-baseline="central" textLength="21.22" lengthAdjust="spacingAndGlyphs">unforced</text>
<line x1="30.8" y1="47.86" x2="40.8" y2="47.86" stroke="#f29a74" stroke-width="0.65"/>
<circle cx="35.8" cy="47.86" r="0.9" fill="#f29a74"/>
<text class="b" x="45.2" y="48.06" font-size="5.14" dominant-baseline="central" textLength="37.85" lengthAdjust="spacingAndGlyphs">CCSM4_RCP585</text>
<line x1="30.8" y1="55.42" x2="40.8" y2="55.42" stroke="#e31a1c" stroke-width="0.65"/>
<circle cx="35.8" cy="55.42" r="0.9" fill="#e31a1c"/>
<text class="b" x="45.2" y="55.62" font-size="5.14" dominant-baseline="central" textLength="37.18" lengthAdjust="spacingAndGlyphs">CESM2_SSP585</text>
<line x1="30.8" y1="62.98" x2="40.8" y2="62.98" stroke="#33a02c" stroke-width="0.65"/>
<circle cx="35.8" cy="62.98" r="0.9" fill="#33a02c"/>
<text class="b" x="45.2" y="63.18" font-size="5.14" dominant-baseline="central" textLength="42.39" lengthAdjust="spacingAndGlyphs">HADGEM_RCP585</text>
<line x1="30.8" y1="70.54" x2="40.8" y2="70.54" stroke="#9440b0" stroke-width="0.65"/>
<circle cx="35.8" cy="70.54" r="0.9" fill="#9440b0"/>
<text class="b" x="45.2" y="70.74" font-size="5.14" dominant-baseline="central" textLength="39.63" lengthAdjust="spacingAndGlyphs">NorESM_RCP126</text>
<line x1="30.8" y1="78.1" x2="40.8" y2="78.1" stroke="#a82828" stroke-width="0.65"/>
<circle cx="35.8" cy="78.1" r="0.9" fill="#a82828"/>
<text class="b" x="45.2" y="78.3" font-size="5.14" dominant-baseline="central" textLength="39.63" lengthAdjust="spacingAndGlyphs">NorESM_RCP585</text>
<line x1="30.8" y1="85.66" x2="40.8" y2="85.66" stroke="#3d8fe0" stroke-width="0.65"/>
<circle cx="35.8" cy="85.66" r="0.9" fill="#3d8fe0"/>
<text class="b" x="45.2" y="85.86" font-size="5.14" dominant-baseline="central" textLength="37.43" lengthAdjust="spacingAndGlyphs">UKESM_SSP126</text>
<line x1="30.8" y1="93.22" x2="40.8" y2="93.22" stroke="#2ee6e6" stroke-width="0.65"/>
<circle cx="35.8" cy="93.22" r="0.9" fill="#2ee6e6"/>
<text class="b" x="45.2" y="93.42" font-size="5.14" dominant-baseline="central" textLength="37.43" lengthAdjust="spacingAndGlyphs">UKESM_SSP585</text>
<rect x="29.1" y="133.5" width="60.5" height="61.32" rx="1.2" fill="#fff" fill-opacity="0.8" stroke="#e4e4e4" stroke-width="0.6"/>
<line x1="30.8" y1="138.1" x2="40.8" y2="138.1" stroke="#3d3d3d" stroke-width="0.65"/>
<text class="b" x="45.2" y="138.3" font-size="5.14" dominant-baseline="central" textLength="21.22" lengthAdjust="spacingAndGlyphs">unforced</text>
<line x1="30.8" y1="145.66" x2="40.8" y2="145.66" stroke="#f29a74" stroke-width="0.65"/>
<circle cx="35.8" cy="145.66" r="0.9" fill="#f29a74"/>
<text class="b" x="45.2" y="145.86" font-size="5.14" dominant-baseline="central" textLength="37.85" lengthAdjust="spacingAndGlyphs">CCSM4_RCP585</text>
<line x1="30.8" y1="153.22" x2="40.8" y2="153.22" stroke="#e31a1c" stroke-width="0.65"/>
<circle cx="35.8" cy="153.22" r="0.9" fill="#e31a1c"/>
<text class="b" x="45.2" y="153.42" font-size="5.14" dominant-baseline="central" textLength="37.18" lengthAdjust="spacingAndGlyphs">CESM2_SSP585</text>
<line x1="30.8" y1="160.78" x2="40.8" y2="160.78" stroke="#33a02c" stroke-width="0.65"/>
<circle cx="35.8" cy="160.78" r="0.9" fill="#33a02c"/>
<text class="b" x="45.2" y="160.98" font-size="5.14" dominant-baseline="central" textLength="42.39" lengthAdjust="spacingAndGlyphs">HADGEM_RCP585</text>
<line x1="30.8" y1="168.34" x2="40.8" y2="168.34" stroke="#9440b0" stroke-width="0.65"/>
<circle cx="35.8" cy="168.34" r="0.9" fill="#9440b0"/>
<text class="b" x="45.2" y="168.54" font-size="5.14" dominant-baseline="central" textLength="39.63" lengthAdjust="spacingAndGlyphs">NorESM_RCP126</text>
<line x1="30.8" y1="175.9" x2="40.8" y2="175.9" stroke="#a82828" stroke-width="0.65"/>
<circle cx="35.8" cy="175.9" r="0.9" fill="#a82828"/>
<text class="b" x="45.2" y="176.1" font-size="5.14" dominant-baseline="central" textLength="39.63" lengthAdjust="spacingAndGlyphs">NorESM_RCP585</text>
<line x1="30.8" y1="183.46" x2="40.8" y2="183.46" stroke="#3d8fe0" stroke-width="0.65"/>
<circle cx="35.8" cy="183.46" r="0.9" fill="#3d8fe0"/>
<text class="b" x="45.2" y="183.66" font-size="5.14" dominant-baseline="central" textLength="37.43" lengthAdjust="spacingAndGlyphs">UKESM_SSP126</text>
<line x1="30.8" y1="191.02" x2="40.8" y2="191.02" stroke="#2ee6e6" stroke-width="0.65"/>
<circle cx="35.8" cy="191.02" r="0.9" fill="#2ee6e6"/>
<text class="b" x="45.2" y="191.22" font-size="5.14" dominant-baseline="central" textLength="37.43" lengthAdjust="spacingAndGlyphs">UKESM_SSP585</text>
<rect x="29.1" y="231.2" width="60.5" height="61.32" rx="1.2" fill="#fff" fill-opacity="0.8" stroke="#e4e4e4" stroke-width="0.6"/>
<line x1="30.8" y1="235.8" x2="40.8" y2="235.8" stroke="#3d3d3d" stroke-width="0.65"/>
<text class="b" x="45.2" y="236" font-size="5.14" dominant-baseline="central" textLength="21.22" lengthAdjust="spacingAndGlyphs">unforced</text>
<line x1="30.8" y1="243.36" x2="40.8" y2="243.36" stroke="#f29a74" stroke-width="0.65"/>
<circle cx="35.8" cy="243.36" r="0.9" fill="#f29a74"/>
<text class="b" x="45.2" y="243.56" font-size="5.14" dominant-baseline="central" textLength="37.85" lengthAdjust="spacingAndGlyphs">CCSM4_RCP585</text>
<line x1="30.8" y1="250.92" x2="40.8" y2="250.92" stroke="#e31a1c" stroke-width="0.65"/>
<circle cx="35.8" cy="250.92" r="0.9" fill="#e31a1c"/>
<text class="b" x="45.2" y="251.12" font-size="5.14" dominant-baseline="central" textLength="37.18" lengthAdjust="spacingAndGlyphs">CESM2_SSP585</text>
<line x1="30.8" y1="258.48" x2="40.8" y2="258.48" stroke="#33a02c" stroke-width="0.65"/>
<circle cx="35.8" cy="258.48" r="0.9" fill="#33a02c"/>
<text class="b" x="45.2" y="258.68" font-size="5.14" dominant-baseline="central" textLength="42.39" lengthAdjust="spacingAndGlyphs">HADGEM_RCP585</text>
<line x1="30.8" y1="266.04" x2="40.8" y2="266.04" stroke="#9440b0" stroke-width="0.65"/>
<circle cx="35.8" cy="266.04" r="0.9" fill="#9440b0"/>
<text class="b" x="45.2" y="266.24" font-size="5.14" dominant-baseline="central" textLength="39.63" lengthAdjust="spacingAndGlyphs">NorESM_RCP126</text>
<line x1="30.8" y1="273.6" x2="40.8" y2="273.6" stroke="#a82828" stroke-width="0.65"/>
<circle cx="35.8" cy="273.6" r="0.9" fill="#a82828"/>
<text class="b" x="45.2" y="273.8" font-size="5.14" dominant-baseline="central" textLength="39.63" lengthAdjust="spacingAndGlyphs">NorESM_RCP585</text>
<line x1="30.8" y1="281.16" x2="40.8" y2="281.16" stroke="#3d8fe0" stroke-width="0.65"/>
<circle cx="35.8" cy="281.16" r="0.9" fill="#3d8fe0"/>
<text class="b" x="45.2" y="281.36" font-size="5.14" dominant-baseline="central" textLength="37.43" lengthAdjust="spacingAndGlyphs">UKESM_SSP126</text>
<line x1="30.8" y1="288.72" x2="40.8" y2="288.72" stroke="#2ee6e6" stroke-width="0.65"/>
<circle cx="35.8" cy="288.72" r="0.9" fill="#2ee6e6"/>
<text class="b" x="45.2" y="288.92" font-size="5.14" dominant-baseline="central" textLength="37.43" lengthAdjust="spacingAndGlyphs">UKESM_SSP585</text>
</svg></body></html>
